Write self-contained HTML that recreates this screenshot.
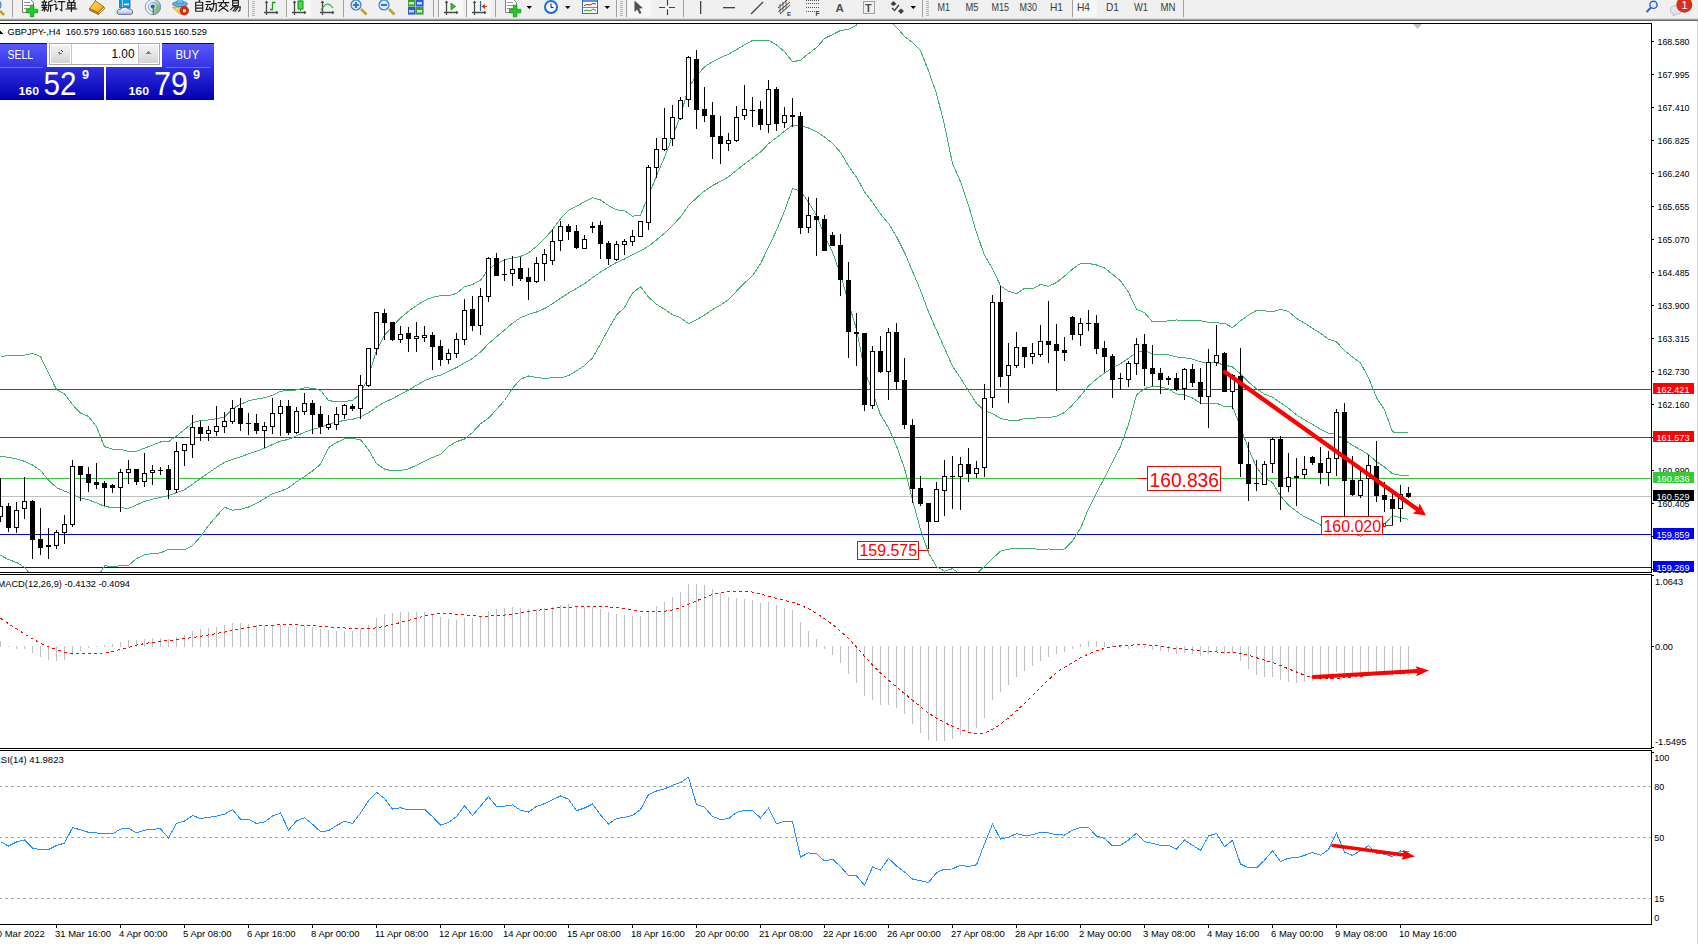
<!DOCTYPE html>
<html><head><meta charset="utf-8"><style>
html,body{margin:0;padding:0;background:#fff;width:1698px;height:944px;overflow:hidden}
svg{display:block}
text{font-family:"Liberation Sans",sans-serif}
</style></head><body>
<svg width="1698" height="944" viewBox="0 0 1698 944" shape-rendering="crispEdges">
<rect x="0" y="0" width="1698" height="19" fill="#f0f0f0"/>
<rect x="0" y="18" width="1698" height="1" fill="#dcdcdc"/>
<rect x="0" y="19" width="1698" height="1" fill="#a0a0a0"/>
<rect x="0" y="20" width="1698" height="1" fill="#6a6a6a"/>
<g shape-rendering="auto">
<rect x="287" y="0" width="24" height="17" fill="#f7f7f7"/>
<rect x="439" y="0" width="24" height="17" fill="#f7f7f7"/>
<rect x="467" y="0" width="24" height="17" fill="#f7f7f7"/>
<rect x="628" y="0" width="23" height="17" fill="#f7f7f7"/>
<rect x="1073" y="0" width="24" height="17" fill="#f7f7f7"/>
<circle cx="-4" cy="5" r="5" fill="#cfe6fb" stroke="#3a7ad6" stroke-width="1.2"/>
<line x1="0" y1="11" x2="4" y2="15" stroke="#c8a020" stroke-width="2.5"/>
<rect x="12.0" y="0" width="1" height="17" fill="#a0a0a0"/>
<path d="M22.5 -0.5 h8 l3 3 v10 h-11 z" fill="#fff" stroke="#808080" stroke-width="1"/>
<rect x="24.0" y="2.0" width="6" height="1" fill="#909090"/>
<rect x="24.0" y="5.0" width="6" height="1" fill="#909090"/>
<rect x="24.0" y="8.0" width="6" height="1" fill="#909090"/>
<path d="M30.3 5.3 h3.5 v4 h4 v3.5 h-4 v4 h-3.5 v-4 h-4 v-3.5 h4 z" fill="#22cc22" stroke="#119911" stroke-width="0.8"/>
<path transform="translate(41.5 0.2) scale(0.950)" d="M3 0.3 V1.3 M0.6 2.1 H5.4 M1.7 3 L2.1 4.8 M4.3 3 L3.9 4.8 M0.3 5.5 H5.8 M0.6 7.6 H5.4 M3 5.5 V11.6 M3 8 L0.6 10.8 M3 8 L5.5 10.3 M11 0.5 L7.6 1.9 M7.6 1.9 V7 Q7.5 10 6.6 11.6 M7.6 5.4 H11.7 M9.6 5.4 V11.7" fill="none" stroke="#1a1a1a" stroke-width="1.21" stroke-linecap="square"/>
<path transform="translate(53.6 0.2) scale(0.950)" d="M1.3 0.8 L2.5 2 M0.4 4.5 H2.5 V10 L4 8.5 M5 1.5 H11.7 M8.6 1.5 V11 L7.2 10.2" fill="none" stroke="#1a1a1a" stroke-width="1.21" stroke-linecap="square"/>
<path transform="translate(65.7 0.2) scale(0.950)" d="M3.2 0 L4.1 1.5 M9 0 L8 1.5 M2.2 2.6 H9.8 V8 H2.2 Z M2.2 5.3 H9.8 M6 2.6 V11.7 M0.4 9.3 H11.6" fill="none" stroke="#1a1a1a" stroke-width="1.21" stroke-linecap="square"/>
<path transform="translate(193.5 0.2) scale(0.950)" d="M6.6 0 L5.6 1.6 M2.3 2.2 H9.7 V11.6 H2.3 Z M2.3 5.3 H9.7 M2.3 8.4 H9.7" fill="none" stroke="#1a1a1a" stroke-width="1.21" stroke-linecap="square"/>
<path transform="translate(205.6 0.2) scale(0.950)" d="M0.8 1.5 H5 M0.2 4.5 H5.6 M2.6 4.5 L0.6 10 L5.5 9 M4.2 7.4 L5.6 10.2 M6.4 3.6 H11.2 V10.6 L10 11.6 M8.6 0.4 V5 Q8.3 9 6 11.6" fill="none" stroke="#1a1a1a" stroke-width="1.21" stroke-linecap="square"/>
<path transform="translate(217.7 0.2) scale(0.950)" d="M6 0 V1.5 M0.4 2.6 H11.6 M4 3.8 L1.8 6.2 M8 3.8 L10.2 6.2 M3.4 6 L10.8 11.6 M8.6 6 L1 11.6" fill="none" stroke="#1a1a1a" stroke-width="1.21" stroke-linecap="square"/>
<path transform="translate(229.8 0.2) scale(0.950)" d="M3 0.5 H9 V5.6 H3 Z M3 3 H9 M3.6 7 H11 L10.6 10.8 L9.4 11.6 M4.6 6 L1 10 M6.8 7.2 L3.6 11.2 M9 7.2 L5.6 11.6" fill="none" stroke="#1a1a1a" stroke-width="1.21" stroke-linecap="square"/>
<defs><linearGradient id="gold" x1="0" y1="0" x2="1" y2="1"><stop offset="0" stop-color="#ffe060"/><stop offset="1" stop-color="#e0a810"/></linearGradient><linearGradient id="cloudg" x1="0" y1="0" x2="0" y2="1"><stop offset="0" stop-color="#ffffff"/><stop offset="1" stop-color="#b8c4dc"/></linearGradient><linearGradient id="sigg" x1="0" y1="0" x2="1" y2="1"><stop offset="0" stop-color="#e8f4e0"/><stop offset="1" stop-color="#3a9a3a"/></linearGradient></defs>
<path d="M89.5 8.5 L98 12.5 L98.5 14.5 L89.8 10.3 Z" fill="#d8a040" stroke="#9a5a10" stroke-width="0.9"/>
<path d="M98 12.5 L103.8 6.8 L104.6 8.8 L98.5 14.5 Z" fill="#efe0b0" stroke="#9a5a10" stroke-width="0.9"/>
<path d="M95.5 1 L103.8 6.8 L98 12.5 L89.5 8.5 Z" fill="url(#gold)" stroke="#a06010" stroke-width="0.9"/>
<path d="M95.5 1 L94.8 -1" stroke="#a06010" stroke-width="1"/>
<path d="M119.5 -0.5 H130 V8 H119.5 Z" fill="#0a9af0" stroke="#1070c0" stroke-width="0.8"/>
<path d="M122.5 -0.5 V8" stroke="#c8ecff" stroke-width="0.8"/>
<rect x="124" y="3.6" width="5" height="1.6" fill="#e8f6ff"/>
<path d="M118.3 14.3 Q116 13 117.5 10.5 Q118.5 9 120.5 9.5 Q121.5 7 125 7.2 Q127.5 7.3 128.3 9 Q131.5 8.3 132.5 11 Q133.5 13.8 131 14.3 Z" fill="url(#cloudg)" stroke="#4a5a90" stroke-width="0.9"/>
<path d="M153 7 V14.7 A7.7 7.7 0 0 0 160.7 7 A7.7 7.7 0 0 0 153 -0.7 Z" fill="url(#sigg)" opacity="0.85"/>
<circle cx="153" cy="7" r="7.7" fill="none" stroke="#5a80d0" stroke-width="1" opacity="0.75"/>
<circle cx="153" cy="7" r="4.6" fill="none" stroke="#6a90d8" stroke-width="1" opacity="0.8"/>
<circle cx="152.6" cy="6.6" r="2" fill="#2a5ad0"/>
<line x1="153.3" y1="7" x2="153.3" y2="14.8" stroke="#20a020" stroke-width="1.3"/>
<path d="M172.5 7.3 L186.5 6.5 L181 15 Z" fill="#f4d850" stroke="#c09020" stroke-width="0.8"/>
<ellipse cx="180" cy="4" rx="7.5" ry="2.6" fill="#62b4e8" stroke="#2a7ab0" stroke-width="0.8"/>
<path d="M176.5 3.5 Q177 -1 180 -1 Q183 -1 183.5 3.5 Z" fill="#70c0f0" stroke="#2a7ab0" stroke-width="0.6"/>
<circle cx="184.3" cy="10.6" r="4.3" fill="#e02a10" stroke="#b01800" stroke-width="0.6"/>
<rect x="183" y="9.3" width="2.8" height="2.8" fill="#fff"/>
<rect x="248.0" y="0" width="1" height="17" fill="#a0a0a0"/>
<rect x="252.0" y="1" width="3" height="1" fill="#b4b4b4"/>
<rect x="252.0" y="3" width="3" height="1" fill="#b4b4b4"/>
<rect x="252.0" y="5" width="3" height="1" fill="#b4b4b4"/>
<rect x="252.0" y="7" width="3" height="1" fill="#b4b4b4"/>
<rect x="252.0" y="9" width="3" height="1" fill="#b4b4b4"/>
<rect x="252.0" y="11" width="3" height="1" fill="#b4b4b4"/>
<rect x="252.0" y="13" width="3" height="1" fill="#b4b4b4"/>
<rect x="252.0" y="15" width="3" height="1" fill="#b4b4b4"/>
<path d="M266.5 15.0 V1.5 M264.0 12.5 H278.0" stroke="#4a4a4a" stroke-width="1.3" fill="none"/>
<path d="M266.5 0.5 l-1.8 2.5 h3.6 z M278.5 12.5 l-2.5 -1.8 v3.6 z" fill="#4a4a4a"/>
<path d="M270 9.5 H272.5 V2.5 H275.5" stroke="#20a020" stroke-width="1.3" fill="none"/>
<rect x="286.0" y="0" width="1" height="17" fill="#a0a0a0"/>
<path d="M294.5 15.0 V1.5 M292.0 12.5 H306.0" stroke="#4a4a4a" stroke-width="1.3" fill="none"/>
<path d="M294.5 0.5 l-1.8 2.5 h3.6 z M306.5 12.5 l-2.5 -1.8 v3.6 z" fill="#4a4a4a"/>
<line x1="300.5" y1="0" x2="300.5" y2="11" stroke="#189018" stroke-width="1"/>
<rect x="298" y="1" width="5" height="8" fill="#40e040" stroke="#189018" stroke-width="1"/>
<path d="M322.5 15.0 V1.5 M320.0 12.5 H334.0" stroke="#4a4a4a" stroke-width="1.3" fill="none"/>
<path d="M322.5 0.5 l-1.8 2.5 h3.6 z M334.5 12.5 l-2.5 -1.8 v3.6 z" fill="#4a4a4a"/>
<path d="M321 10 Q325 4 327.5 4 Q330 4 333 8" stroke="#30a030" stroke-width="1.2" fill="none"/>
<rect x="343.0" y="0" width="1" height="17" fill="#a0a0a0"/>
<line x1="361.0" y1="9" x2="366.5" y2="14.5" stroke="#c8a020" stroke-width="2.6"/>
<circle cx="356.0" cy="5" r="5" fill="#d4ecfc" stroke="#3a7ad6" stroke-width="1.2"/>
<rect x="353.0" y="4" width="6" height="2" fill="#3a7ab0"/>
<rect x="355.0" y="2" width="2" height="6" fill="#3a7ab0"/>
<line x1="389.0" y1="9" x2="394.5" y2="14.5" stroke="#c8a020" stroke-width="2.6"/>
<circle cx="384.0" cy="5" r="5" fill="#d4ecfc" stroke="#3a7ad6" stroke-width="1.2"/>
<rect x="381.0" y="4" width="6" height="2" fill="#3a7ab0"/>
<rect x="408" y="-1" width="7.6" height="7.6" fill="#3aa030"/>
<rect x="409" y="2" width="5" height="2.5" fill="#e8f0ff" fill-opacity="0.85"/>
<rect x="416" y="-1" width="7.6" height="7.6" fill="#2a5ad8"/>
<rect x="417" y="2" width="5" height="2.5" fill="#e8f0ff" fill-opacity="0.85"/>
<rect x="408" y="7" width="7.6" height="7.6" fill="#2a5ad8"/>
<rect x="409" y="10" width="5" height="2.5" fill="#e8f0ff" fill-opacity="0.85"/>
<rect x="416" y="7" width="7.6" height="7.6" fill="#3aa030"/>
<rect x="417" y="10" width="5" height="2.5" fill="#e8f0ff" fill-opacity="0.85"/>
<rect x="433.0" y="0" width="1" height="17" fill="#a0a0a0"/>
<rect x="438.0" y="0" width="1" height="17" fill="#a0a0a0"/>
<path d="M446.5 15.0 V1.5 M444.0 12.5 H458.0" stroke="#4a4a4a" stroke-width="1.3" fill="none"/>
<path d="M446.5 0.5 l-1.8 2.5 h3.6 z M458.5 12.5 l-2.5 -1.8 v3.6 z" fill="#4a4a4a"/>
<path d="M451 3 L455.5 6.5 L451 10 Z" fill="#30c030" stroke="#189018" stroke-width="0.8"/>
<rect x="466.0" y="0" width="1" height="17" fill="#a0a0a0"/>
<path d="M474.5 15.0 V1.5 M472.0 12.5 H486.0" stroke="#4a4a4a" stroke-width="1.3" fill="none"/>
<path d="M474.5 0.5 l-1.8 2.5 h3.6 z M486.5 12.5 l-2.5 -1.8 v3.6 z" fill="#4a4a4a"/>
<line x1="480.5" y1="1" x2="480.5" y2="11" stroke="#2a6ab0" stroke-width="1.2"/>
<path d="M481.5 6.5 L485 4 V9 Z M483 6 H487 V7 H483 Z" fill="#d03010"/>
<rect x="495.0" y="0" width="1" height="17" fill="#a0a0a0"/>
<path d="M505.5 -0.5 h8 l3 3 v10 h-11 z" fill="#fff" stroke="#808080" stroke-width="1"/>
<rect x="507.0" y="2.0" width="6" height="1" fill="#909090"/>
<rect x="507.0" y="5.0" width="6" height="1" fill="#909090"/>
<rect x="507.0" y="8.0" width="6" height="1" fill="#909090"/>
<path d="M513.3 5.3 h3.5 v4 h4 v3.5 h-4 v4 h-3.5 v-4 h-4 v-3.5 h4 z" fill="#22cc22" stroke="#119911" stroke-width="0.8"/>
<path d="M526.5 6 h5.5 l-2.75 3 z" fill="#000"/>
<circle cx="551" cy="7" r="7" fill="#1a6ed8"/>
<circle cx="551" cy="7" r="5" fill="#f8f8ff"/>
<path d="M551 3.5 V7.5 H553.5" stroke="#222" stroke-width="1" fill="none"/>
<path d="M565.0 6 h5.5 l-2.75 3 z" fill="#000"/>
<rect x="582.5" y="-0.5" width="15" height="14" fill="#fff" stroke="#3a6ab0" stroke-width="1"/>
<rect x="583" y="0" width="14" height="2" fill="#5a90d8"/>
<path d="M584 5.5 L587 4.5 L590 5 L593 3.5 L596 4" stroke="#b02010" stroke-width="1" fill="none"/>
<rect x="583" y="7" width="14" height="1" fill="#5a90d8"/>
<path d="M584 11 L587 10 L590 11 L593 9 L596 10.5" stroke="#20a020" stroke-width="1" fill="none"/>
<path d="M604.5 6 h5.5 l-2.75 3 z" fill="#000"/>
<rect x="616.0" y="0" width="1" height="17" fill="#a0a0a0"/>
<rect x="620.0" y="1" width="3" height="1" fill="#b4b4b4"/>
<rect x="620.0" y="3" width="3" height="1" fill="#b4b4b4"/>
<rect x="620.0" y="5" width="3" height="1" fill="#b4b4b4"/>
<rect x="620.0" y="7" width="3" height="1" fill="#b4b4b4"/>
<rect x="620.0" y="9" width="3" height="1" fill="#b4b4b4"/>
<rect x="620.0" y="11" width="3" height="1" fill="#b4b4b4"/>
<rect x="620.0" y="13" width="3" height="1" fill="#b4b4b4"/>
<rect x="620.0" y="15" width="3" height="1" fill="#b4b4b4"/>
<rect x="626.0" y="0" width="1" height="17" fill="#a0a0a0"/>
<path d="M634.5 0.5 V12 L637.2 9.5 L639.5 14 L641.5 13 L639.2 8.6 L643 8.3 Z" fill="#505050"/>
<path d="M659 7.5 H665 M669 7.5 H675 M667.5 0 V5.5 M667.5 9.5 V15" stroke="#404040" stroke-width="1.2" fill="none"/>
<rect x="683.0" y="0" width="1" height="17" fill="#a0a0a0"/>
<rect x="700" y="1" width="1.3" height="13" fill="#404040"/>
<rect x="723" y="7" width="12" height="1.3" fill="#404040"/>
<line x1="751" y1="14" x2="763" y2="2" stroke="#404040" stroke-width="1.2"/>
<path d="M778 8 L787 0 M778.5 11.5 L790 2 M780 14 L790 5" stroke="#404040" stroke-width="1" fill="none"/>
<path d="M780 4 V13 M783 2 V11 M786 0 V9" stroke="#404040" stroke-width="0.8" fill="none"/>
<text x="787" y="16" font-size="6" font-weight="bold" fill="#404040">E</text>
<line x1="806" y1="0.5" x2="819" y2="0.5" stroke="#505050" stroke-width="1" stroke-dasharray="1,1"/>
<line x1="806" y1="3.5" x2="819" y2="3.5" stroke="#505050" stroke-width="1" stroke-dasharray="1,1"/>
<line x1="806" y1="7.5" x2="819" y2="7.5" stroke="#505050" stroke-width="1" stroke-dasharray="1,1"/>
<line x1="806" y1="11.5" x2="819" y2="11.5" stroke="#505050" stroke-width="1" stroke-dasharray="1,1"/>
<text x="815.5" y="16" font-size="6.5" font-weight="bold" fill="#404040">F</text>
<text x="835.5" y="12" font-size="11.5" font-weight="bold" fill="#505050">A</text>
<rect x="863.5" y="1.5" width="11" height="12" fill="none" stroke="#505050" stroke-width="1" stroke-dasharray="1,1"/>
<text x="865" y="12" font-size="11" font-weight="bold" fill="#505050">T</text>
<path d="M890.5 4 L893.5 1 L896.5 4 L893.5 6 Z M898 11 L901 8.5 L904 11 L901 14 Z" fill="#404040"/>
<path d="M892 8 L894.5 10.5 L899 5" stroke="#404040" stroke-width="1.3" fill="none"/>
<path d="M910.5 6 h5.5 l-2.75 3 z" fill="#000"/>
<rect x="922.0" y="0" width="1" height="17" fill="#a0a0a0"/>
<rect x="926.0" y="1" width="3" height="1" fill="#b4b4b4"/>
<rect x="926.0" y="3" width="3" height="1" fill="#b4b4b4"/>
<rect x="926.0" y="5" width="3" height="1" fill="#b4b4b4"/>
<rect x="926.0" y="7" width="3" height="1" fill="#b4b4b4"/>
<rect x="926.0" y="9" width="3" height="1" fill="#b4b4b4"/>
<rect x="926.0" y="11" width="3" height="1" fill="#b4b4b4"/>
<rect x="926.0" y="13" width="3" height="1" fill="#b4b4b4"/>
<rect x="926.0" y="15" width="3" height="1" fill="#b4b4b4"/>
<text x="937.5" y="10.9" font-size="10.5" fill="#3c3c3c" textLength="12.5" lengthAdjust="spacingAndGlyphs">M1</text>
<text x="965.5" y="10.9" font-size="10.5" fill="#3c3c3c" textLength="13.0" lengthAdjust="spacingAndGlyphs">M5</text>
<text x="991.5" y="10.9" font-size="10.5" fill="#3c3c3c" textLength="17.5" lengthAdjust="spacingAndGlyphs">M15</text>
<text x="1019.5" y="10.9" font-size="10.5" fill="#3c3c3c" textLength="17.5" lengthAdjust="spacingAndGlyphs">M30</text>
<text x="1050.0" y="10.9" font-size="10.5" fill="#3c3c3c" textLength="13.0" lengthAdjust="spacingAndGlyphs">H1</text>
<text x="1077.0" y="10.9" font-size="10.5" fill="#3c3c3c" textLength="13.0" lengthAdjust="spacingAndGlyphs">H4</text>
<text x="1106.0" y="10.9" font-size="10.5" fill="#3c3c3c" textLength="13.0" lengthAdjust="spacingAndGlyphs">D1</text>
<text x="1134.0" y="10.9" font-size="10.5" fill="#3c3c3c" textLength="14.0" lengthAdjust="spacingAndGlyphs">W1</text>
<text x="1160.5" y="10.9" font-size="10.5" fill="#3c3c3c" textLength="15.0" lengthAdjust="spacingAndGlyphs">MN</text>
<rect x="1072.0" y="0" width="1" height="17" fill="#a0a0a0"/>
<rect x="1183.0" y="0" width="1" height="17" fill="#a0a0a0"/>
<circle cx="1653.5" cy="4.8" r="3.6" fill="none" stroke="#2a62d0" stroke-width="1.4"/>
<line x1="1651" y1="7.5" x2="1646.5" y2="12" stroke="#2a62d0" stroke-width="2"/>
<path d="M1670.5 11 Q1670 5.5 1676 5.5 Q1682 5.5 1682 10.5 Q1682 14 1676 14 L1673 16 L1673.5 13.5 Q1670.5 13 1670.5 11 Z" fill="#e4e4ea" stroke="#b0b0b8" stroke-width="0.8"/>
<circle cx="1684.3" cy="4.7" r="8" fill="#d8301c"/>
<text x="1681.5" y="8.8" font-size="11" fill="#fff" font-family="Liberation Serif,serif">1</text>
</g>
<path d="M0 23.5 H1651.5 V572.5 H0" fill="none" stroke="#000" stroke-width="1"/>
<path d="M0 574.5 H1651.5 V748.5 H0" fill="none" stroke="#000" stroke-width="1"/>
<path d="M0 750.5 H1651.5 V924.5 H0" fill="none" stroke="#000" stroke-width="1"/>
<rect x="1697" y="21" width="1" height="923" fill="#d4d4d4"/>
<defs><clipPath id="cm"><rect x="0" y="24" width="1651" height="548"/></clipPath><clipPath id="cd"><rect x="0" y="575" width="1651" height="173"/></clipPath><clipPath id="cr"><rect x="0" y="751" width="1651" height="173"/></clipPath></defs>
<rect x="0" y="389" width="1651" height="1" fill="#ff0000"/>
<rect x="0" y="437" width="1651" height="1" fill="#ff0000"/>
<rect x="0" y="478" width="1651" height="1" fill="#32cd32"/>
<rect x="0" y="496" width="1651" height="1" fill="#c0c0c0"/>
<rect x="0" y="534" width="1651" height="1" fill="#0000ff"/>
<rect x="0" y="567" width="1651" height="1" fill="#0000ff"/>
<g clip-path="url(#cm)">
<polyline points="0.5,357.2 8.5,355.2 16.5,355.2 24.5,355.2 32.5,353.4 40.5,356.5 48.5,373.0 56.5,389.6 64.5,393.7 72.5,404.7 80.5,413.0 88.5,416.4 96.5,426.8 104.5,446.7 112.5,449.1 120.5,449.5 128.5,451.3 136.5,451.3 144.5,448.1 152.5,445.1 160.5,442.0 168.5,441.7 176.5,436.0 184.5,429.7 192.5,422.8 200.5,420.5 208.5,420.0 216.5,418.7 224.5,417.2 232.5,408.7 240.5,404.3 248.5,400.8 256.5,399.1 264.5,397.8 272.5,395.3 280.5,391.1 288.5,390.8 296.5,389.9 304.5,387.9 312.5,388.1 320.5,390.4 328.5,400.4 336.5,402.0 344.5,401.6 352.5,400.3 360.5,394.0 368.5,376.1 376.5,350.7 384.5,335.2 392.5,326.5 400.5,317.9 408.5,311.2 416.5,305.5 424.5,300.5 432.5,297.3 440.5,295.7 448.5,295.8 456.5,293.4 464.5,286.8 472.5,284.5 480.5,280.3 488.5,269.1 496.5,264.0 504.5,259.8 512.5,257.9 520.5,256.5 528.5,252.8 536.5,246.5 544.5,238.8 552.5,229.7 560.5,218.7 568.5,210.4 576.5,206.3 584.5,201.8 592.5,197.7 600.5,199.9 608.5,205.6 616.5,209.9 624.5,210.7 632.5,216.2 640.5,215.1 648.5,195.6 656.5,175.8 664.5,157.3 672.5,136.6 680.5,115.9 688.5,87.6 696.5,75.9 704.5,66.8 712.5,61.7 720.5,57.7 728.5,54.2 736.5,49.6 744.5,44.8 752.5,40.5 760.5,40.5 768.5,40.2 776.5,44.9 784.5,51.6 792.5,61.8 800.5,60.2 808.5,53.7 816.5,47.6 824.5,38.5 832.5,34.6 840.5,30.5 848.5,29.2 856.5,25.1 864.5,13.2 872.5,13.1 880.5,13.0 888.5,19.1 896.5,27.3 904.5,36.4 912.5,42.6 920.5,50.8 928.5,70.8 936.5,93.6 944.5,125.1 952.5,163.7 960.5,181.6 968.5,205.3 976.5,232.7 984.5,255.2 992.5,268.6 1000.5,285.8 1008.5,291.2 1016.5,293.7 1024.5,288.4 1032.5,288.7 1040.5,284.5 1048.5,286.4 1056.5,282.5 1064.5,276.1 1072.5,269.0 1080.5,263.5 1088.5,263.4 1096.5,265.0 1104.5,267.9 1112.5,274.3 1120.5,280.8 1128.5,292.3 1136.5,309.3 1144.5,312.6 1152.5,321.9 1160.5,321.6 1168.5,320.9 1176.5,320.0 1184.5,320.2 1192.5,320.2 1200.5,320.6 1208.5,322.3 1216.5,322.9 1224.5,323.3 1232.5,327.7 1240.5,320.8 1248.5,315.1 1256.5,310.4 1264.5,310.8 1272.5,311.8 1280.5,309.3 1288.5,311.5 1296.5,318.4 1304.5,323.1 1312.5,328.3 1320.5,333.2 1328.5,339.2 1336.5,342.0 1344.5,350.5 1352.5,357.1 1360.5,363.0 1368.5,377.7 1376.5,397.6 1384.5,409.8 1392.5,431.9 1400.5,432.8 1408.5,432.6" fill="none" stroke="#3cb371" stroke-width="1" />
<polyline points="0.5,456.3 8.5,457.4 16.5,458.8 24.5,461.3 32.5,465.0 40.5,470.5 48.5,480.1 56.5,487.7 64.5,491.1 72.5,494.3 80.5,498.0 88.5,499.8 96.5,502.9 104.5,506.3 112.5,507.7 120.5,507.7 128.5,508.4 136.5,504.9 144.5,501.5 152.5,499.2 160.5,497.4 168.5,495.6 176.5,492.6 184.5,489.8 192.5,484.2 200.5,478.5 208.5,472.8 216.5,467.5 224.5,462.3 232.5,459.4 240.5,456.9 248.5,453.9 256.5,451.2 264.5,448.2 272.5,444.5 280.5,441.2 288.5,439.3 296.5,435.8 304.5,432.3 312.5,429.5 320.5,427.3 328.5,424.1 336.5,422.2 344.5,420.3 352.5,419.3 360.5,416.9 368.5,412.8 376.5,407.1 384.5,402.2 392.5,398.7 400.5,394.3 408.5,390.0 416.5,385.3 424.5,380.8 432.5,377.4 440.5,375.1 448.5,371.1 456.5,367.6 464.5,362.9 472.5,358.5 480.5,352.0 488.5,343.7 496.5,336.7 504.5,330.1 512.5,323.2 520.5,317.8 528.5,314.4 536.5,312.0 544.5,308.6 552.5,303.7 560.5,298.3 568.5,293.0 576.5,288.5 584.5,283.7 592.5,277.8 600.5,272.0 608.5,267.2 616.5,262.5 624.5,259.0 632.5,254.6 640.5,250.9 648.5,246.3 656.5,240.0 664.5,233.3 672.5,225.7 680.5,216.8 688.5,205.6 696.5,197.9 704.5,190.9 712.5,185.6 720.5,181.4 728.5,176.9 736.5,170.4 744.5,163.9 752.5,158.1 760.5,152.1 768.5,143.7 776.5,137.6 784.5,131.3 792.5,125.3 800.5,125.6 808.5,128.0 816.5,131.5 824.5,137.0 832.5,143.4 840.5,152.3 848.5,166.1 856.5,177.3 864.5,191.7 872.5,202.4 880.5,213.9 888.5,223.5 896.5,236.6 904.5,252.4 912.5,271.3 920.5,290.2 928.5,311.8 936.5,330.1 944.5,348.1 952.5,366.2 960.5,378.0 968.5,390.9 976.5,403.3 984.5,410.8 992.5,413.6 1000.5,418.5 1008.5,420.2 1016.5,420.9 1024.5,418.5 1032.5,418.6 1040.5,417.1 1048.5,417.7 1056.5,416.2 1064.5,412.6 1072.5,404.9 1080.5,395.9 1088.5,386.0 1096.5,379.0 1104.5,372.9 1112.5,368.1 1120.5,363.7 1128.5,358.3 1136.5,352.1 1144.5,350.6 1152.5,354.1 1160.5,354.3 1168.5,354.9 1176.5,357.0 1184.5,357.7 1192.5,359.1 1200.5,361.8 1208.5,362.8 1216.5,363.0 1224.5,365.0 1232.5,367.0 1240.5,374.0 1248.5,382.0 1256.5,388.8 1264.5,394.2 1272.5,397.2 1280.5,402.6 1288.5,408.3 1296.5,414.9 1304.5,419.9 1312.5,424.4 1320.5,429.1 1328.5,433.1 1336.5,434.2 1344.5,439.8 1352.5,445.4 1360.5,449.6 1368.5,454.7 1376.5,461.7 1384.5,467.1 1392.5,473.8 1400.5,475.3 1408.5,475.9" fill="none" stroke="#3cb371" stroke-width="1" />
<polyline points="0.5,555.4 8.5,559.6 16.5,562.4 24.5,567.4 32.5,576.6 40.5,584.5 48.5,587.2 56.5,585.8 64.5,588.5 72.5,583.9 80.5,583.0 88.5,583.2 96.5,579.0 104.5,565.9 112.5,566.3 120.5,565.9 128.5,565.5 136.5,558.5 144.5,554.9 152.5,553.4 160.5,552.9 168.5,549.4 176.5,549.2 184.5,549.9 192.5,545.6 200.5,536.6 208.5,525.5 216.5,516.2 224.5,507.3 232.5,510.1 240.5,509.4 248.5,507.0 256.5,503.3 264.5,498.6 272.5,493.7 280.5,491.3 288.5,487.8 296.5,481.8 304.5,476.8 312.5,470.9 320.5,464.3 328.5,447.7 336.5,442.5 344.5,438.9 352.5,438.3 360.5,439.8 368.5,449.6 376.5,463.5 384.5,469.1 392.5,470.9 400.5,470.6 408.5,468.9 416.5,465.2 424.5,461.1 432.5,457.5 440.5,454.4 448.5,446.5 456.5,441.7 464.5,439.0 472.5,432.4 480.5,423.7 488.5,418.2 496.5,409.4 504.5,400.5 512.5,388.4 520.5,379.2 528.5,376.0 536.5,377.4 544.5,378.4 552.5,377.7 560.5,378.0 568.5,375.6 576.5,370.8 584.5,365.6 592.5,357.9 600.5,344.0 608.5,328.9 616.5,315.1 624.5,307.4 632.5,293.1 640.5,286.7 648.5,297.1 656.5,304.3 664.5,309.2 672.5,314.7 680.5,317.7 688.5,323.6 696.5,319.8 704.5,315.0 712.5,309.5 720.5,305.2 728.5,299.6 736.5,291.2 744.5,283.1 752.5,275.7 760.5,263.7 768.5,247.1 776.5,230.3 784.5,211.1 792.5,188.7 800.5,190.9 808.5,202.2 816.5,215.4 824.5,235.6 832.5,252.2 840.5,274.2 848.5,302.9 856.5,329.4 864.5,370.2 872.5,391.8 880.5,414.8 888.5,427.8 896.5,446.0 904.5,468.4 912.5,500.0 920.5,529.6 928.5,552.8 936.5,566.6 944.5,571.2 952.5,568.7 960.5,574.4 968.5,576.4 976.5,573.9 984.5,566.3 992.5,558.6 1000.5,551.2 1008.5,549.2 1016.5,548.1 1024.5,548.6 1032.5,548.5 1040.5,549.8 1048.5,549.0 1056.5,549.8 1064.5,549.0 1072.5,540.8 1080.5,528.3 1088.5,508.7 1096.5,492.9 1104.5,477.9 1112.5,461.8 1120.5,446.6 1128.5,424.3 1136.5,394.9 1144.5,388.6 1152.5,386.3 1160.5,386.9 1168.5,389.0 1176.5,394.0 1184.5,395.1 1192.5,398.0 1200.5,403.1 1208.5,403.2 1216.5,403.2 1224.5,406.6 1232.5,406.4 1240.5,427.3 1248.5,448.9 1256.5,467.1 1264.5,477.7 1272.5,482.6 1280.5,495.9 1288.5,505.1 1296.5,511.4 1304.5,516.8 1312.5,520.5 1320.5,525.0 1328.5,526.9 1336.5,526.5 1344.5,529.1 1352.5,533.6 1360.5,536.1 1368.5,531.7 1376.5,525.8 1384.5,524.3 1392.5,515.6 1400.5,517.7 1408.5,519.3" fill="none" stroke="#3cb371" stroke-width="1" />
</g>
<rect x="0" y="478" width="1" height="44" fill="#000"/>
<rect x="-1.5" y="506.5" width="4" height="10" fill="#fff" stroke="#000" stroke-width="1"/>
<rect x="8" y="503" width="1" height="29" fill="#000"/>
<rect x="6" y="506" width="5" height="22" fill="#000"/>
<rect x="16" y="502" width="1" height="31" fill="#000"/>
<rect x="14.5" y="510.5" width="4" height="17" fill="#fff" stroke="#000" stroke-width="1"/>
<rect x="24" y="477" width="1" height="42" fill="#000"/>
<rect x="22.5" y="501.5" width="4" height="7" fill="#fff" stroke="#000" stroke-width="1"/>
<rect x="32" y="500" width="1" height="59" fill="#000"/>
<rect x="30" y="501" width="5" height="39" fill="#000"/>
<rect x="40" y="508" width="1" height="47" fill="#000"/>
<rect x="38" y="539" width="5" height="9" fill="#000"/>
<rect x="48" y="528" width="1" height="31" fill="#000"/>
<rect x="46" y="545" width="5" height="2" fill="#000"/>
<rect x="56" y="530" width="1" height="19" fill="#000"/>
<rect x="54.5" y="532.5" width="4" height="13" fill="#fff" stroke="#000" stroke-width="1"/>
<rect x="64" y="515" width="1" height="29" fill="#000"/>
<rect x="62.5" y="524.5" width="4" height="8" fill="#fff" stroke="#000" stroke-width="1"/>
<rect x="72" y="460" width="1" height="67" fill="#000"/>
<rect x="70.5" y="466.5" width="4" height="58" fill="#fff" stroke="#000" stroke-width="1"/>
<rect x="80" y="466" width="1" height="35" fill="#000"/>
<rect x="78" y="466" width="5" height="9" fill="#000"/>
<rect x="88" y="467" width="1" height="25" fill="#000"/>
<rect x="86" y="474" width="5" height="9" fill="#000"/>
<rect x="96" y="463" width="1" height="26" fill="#000"/>
<rect x="94" y="482" width="5" height="3" fill="#000"/>
<rect x="104" y="481" width="1" height="25" fill="#000"/>
<rect x="102" y="483" width="5" height="5" fill="#000"/>
<rect x="112" y="484" width="1" height="9" fill="#000"/>
<rect x="110" y="485" width="5" height="3" fill="#000"/>
<rect x="120" y="469" width="1" height="43" fill="#000"/>
<rect x="118.5" y="472.5" width="4" height="15" fill="#fff" stroke="#000" stroke-width="1"/>
<rect x="128" y="460" width="1" height="24" fill="#000"/>
<rect x="126.5" y="469.5" width="4" height="3" fill="#fff" stroke="#000" stroke-width="1"/>
<rect x="136" y="469" width="1" height="16" fill="#000"/>
<rect x="134" y="469" width="5" height="13" fill="#000"/>
<rect x="144" y="453" width="1" height="34" fill="#000"/>
<rect x="142.5" y="473.5" width="4" height="8" fill="#fff" stroke="#000" stroke-width="1"/>
<rect x="152" y="465" width="1" height="20" fill="#000"/>
<rect x="150.5" y="470.5" width="4" height="2" fill="#fff" stroke="#000" stroke-width="1"/>
<rect x="160" y="467" width="1" height="8" fill="#000"/>
<rect x="158" y="470" width="5" height="1" fill="#000"/>
<rect x="168" y="465" width="1" height="34" fill="#000"/>
<rect x="166" y="469" width="5" height="21" fill="#000"/>
<rect x="176" y="442" width="1" height="51" fill="#000"/>
<rect x="174.5" y="451.5" width="4" height="38" fill="#fff" stroke="#000" stroke-width="1"/>
<rect x="184" y="444" width="1" height="22" fill="#000"/>
<rect x="182.5" y="444.5" width="4" height="6" fill="#fff" stroke="#000" stroke-width="1"/>
<rect x="192" y="415" width="1" height="43" fill="#000"/>
<rect x="190.5" y="427.5" width="4" height="17" fill="#fff" stroke="#000" stroke-width="1"/>
<rect x="200" y="421" width="1" height="20" fill="#000"/>
<rect x="198" y="427" width="5" height="7" fill="#000"/>
<rect x="208" y="426" width="1" height="15" fill="#000"/>
<rect x="206.5" y="430.5" width="4" height="3" fill="#fff" stroke="#000" stroke-width="1"/>
<rect x="216" y="406" width="1" height="30" fill="#000"/>
<rect x="214.5" y="426.5" width="4" height="5" fill="#fff" stroke="#000" stroke-width="1"/>
<rect x="224" y="412" width="1" height="21" fill="#000"/>
<rect x="222.5" y="421.5" width="4" height="5" fill="#fff" stroke="#000" stroke-width="1"/>
<rect x="232" y="400" width="1" height="24" fill="#000"/>
<rect x="230.5" y="408.5" width="4" height="13" fill="#fff" stroke="#000" stroke-width="1"/>
<rect x="240" y="398" width="1" height="33" fill="#000"/>
<rect x="238" y="408" width="5" height="16" fill="#000"/>
<rect x="248" y="413" width="1" height="22" fill="#000"/>
<rect x="246" y="423" width="5" height="1" fill="#000"/>
<rect x="256" y="414" width="1" height="20" fill="#000"/>
<rect x="254" y="423" width="5" height="8" fill="#000"/>
<rect x="264" y="422" width="1" height="26" fill="#000"/>
<rect x="262.5" y="426.5" width="4" height="4" fill="#fff" stroke="#000" stroke-width="1"/>
<rect x="272" y="398" width="1" height="36" fill="#000"/>
<rect x="270.5" y="413.5" width="4" height="13" fill="#fff" stroke="#000" stroke-width="1"/>
<rect x="280" y="400" width="1" height="36" fill="#000"/>
<rect x="278.5" y="406.5" width="4" height="7" fill="#fff" stroke="#000" stroke-width="1"/>
<rect x="288" y="400" width="1" height="35" fill="#000"/>
<rect x="286" y="406" width="5" height="27" fill="#000"/>
<rect x="296" y="407" width="1" height="27" fill="#000"/>
<rect x="294.5" y="411.5" width="4" height="21" fill="#fff" stroke="#000" stroke-width="1"/>
<rect x="304" y="393" width="1" height="22" fill="#000"/>
<rect x="302.5" y="403.5" width="4" height="8" fill="#fff" stroke="#000" stroke-width="1"/>
<rect x="312" y="400" width="1" height="34" fill="#000"/>
<rect x="310" y="403" width="5" height="12" fill="#000"/>
<rect x="320" y="406" width="1" height="28" fill="#000"/>
<rect x="318" y="414" width="5" height="13" fill="#000"/>
<rect x="328" y="415" width="1" height="15" fill="#000"/>
<rect x="326.5" y="424.5" width="4" height="3" fill="#fff" stroke="#000" stroke-width="1"/>
<rect x="336" y="407" width="1" height="23" fill="#000"/>
<rect x="334.5" y="414.5" width="4" height="10" fill="#fff" stroke="#000" stroke-width="1"/>
<rect x="344" y="404" width="1" height="15" fill="#000"/>
<rect x="342.5" y="405.5" width="4" height="9" fill="#fff" stroke="#000" stroke-width="1"/>
<rect x="352" y="404" width="1" height="7" fill="#000"/>
<rect x="350" y="406" width="5" height="3" fill="#000"/>
<rect x="360" y="375" width="1" height="44" fill="#000"/>
<rect x="358.5" y="385.5" width="4" height="23" fill="#fff" stroke="#000" stroke-width="1"/>
<rect x="368" y="348" width="1" height="39" fill="#000"/>
<rect x="366.5" y="348.5" width="4" height="37" fill="#fff" stroke="#000" stroke-width="1"/>
<rect x="376" y="312" width="1" height="43" fill="#000"/>
<rect x="374.5" y="312.5" width="4" height="36" fill="#fff" stroke="#000" stroke-width="1"/>
<rect x="384" y="309" width="1" height="31" fill="#000"/>
<rect x="382" y="313" width="5" height="10" fill="#000"/>
<rect x="392" y="322" width="1" height="19" fill="#000"/>
<rect x="390" y="322" width="5" height="18" fill="#000"/>
<rect x="400" y="326" width="1" height="17" fill="#000"/>
<rect x="398.5" y="334.5" width="4" height="5" fill="#fff" stroke="#000" stroke-width="1"/>
<rect x="408" y="327" width="1" height="25" fill="#000"/>
<rect x="406" y="333" width="5" height="6" fill="#000"/>
<rect x="416" y="322" width="1" height="30" fill="#000"/>
<rect x="414.5" y="336.5" width="4" height="2" fill="#fff" stroke="#000" stroke-width="1"/>
<rect x="424" y="326" width="1" height="16" fill="#000"/>
<rect x="422.5" y="335.5" width="4" height="2" fill="#fff" stroke="#000" stroke-width="1"/>
<rect x="432" y="332" width="1" height="38" fill="#000"/>
<rect x="430" y="335" width="5" height="12" fill="#000"/>
<rect x="440" y="340" width="1" height="26" fill="#000"/>
<rect x="438" y="346" width="5" height="14" fill="#000"/>
<rect x="448" y="349" width="1" height="15" fill="#000"/>
<rect x="446.5" y="353.5" width="4" height="6" fill="#fff" stroke="#000" stroke-width="1"/>
<rect x="456" y="333" width="1" height="25" fill="#000"/>
<rect x="454.5" y="339.5" width="4" height="14" fill="#fff" stroke="#000" stroke-width="1"/>
<rect x="464" y="299" width="1" height="46" fill="#000"/>
<rect x="462.5" y="310.5" width="4" height="29" fill="#fff" stroke="#000" stroke-width="1"/>
<rect x="472" y="296" width="1" height="35" fill="#000"/>
<rect x="470" y="309" width="5" height="17" fill="#000"/>
<rect x="480" y="288" width="1" height="47" fill="#000"/>
<rect x="478.5" y="296.5" width="4" height="29" fill="#fff" stroke="#000" stroke-width="1"/>
<rect x="488" y="257" width="1" height="45" fill="#000"/>
<rect x="486.5" y="258.5" width="4" height="38" fill="#fff" stroke="#000" stroke-width="1"/>
<rect x="496" y="253" width="1" height="23" fill="#000"/>
<rect x="494" y="258" width="5" height="18" fill="#000"/>
<rect x="504" y="259" width="1" height="22" fill="#000"/>
<rect x="502" y="274" width="5" height="1" fill="#000"/>
<rect x="512" y="256" width="1" height="30" fill="#000"/>
<rect x="510.5" y="269.5" width="4" height="4" fill="#fff" stroke="#000" stroke-width="1"/>
<rect x="520" y="257" width="1" height="24" fill="#000"/>
<rect x="518" y="268" width="5" height="11" fill="#000"/>
<rect x="528" y="268" width="1" height="32" fill="#000"/>
<rect x="526" y="277" width="5" height="5" fill="#000"/>
<rect x="536" y="257" width="1" height="26" fill="#000"/>
<rect x="534.5" y="263.5" width="4" height="18" fill="#fff" stroke="#000" stroke-width="1"/>
<rect x="544" y="249" width="1" height="32" fill="#000"/>
<rect x="542.5" y="254.5" width="4" height="9" fill="#fff" stroke="#000" stroke-width="1"/>
<rect x="552" y="229" width="1" height="36" fill="#000"/>
<rect x="550.5" y="241.5" width="4" height="19" fill="#fff" stroke="#000" stroke-width="1"/>
<rect x="560" y="221" width="1" height="30" fill="#000"/>
<rect x="558.5" y="226.5" width="4" height="14" fill="#fff" stroke="#000" stroke-width="1"/>
<rect x="568" y="224" width="1" height="16" fill="#000"/>
<rect x="566" y="226" width="5" height="6" fill="#000"/>
<rect x="576" y="225" width="1" height="24" fill="#000"/>
<rect x="574" y="231" width="5" height="17" fill="#000"/>
<rect x="584" y="235" width="1" height="14" fill="#000"/>
<rect x="582.5" y="239.5" width="4" height="9" fill="#fff" stroke="#000" stroke-width="1"/>
<rect x="592" y="222" width="1" height="11" fill="#000"/>
<rect x="590" y="226" width="5" height="2" fill="#000"/>
<rect x="600" y="221" width="1" height="38" fill="#000"/>
<rect x="598" y="225" width="5" height="19" fill="#000"/>
<rect x="608" y="241" width="1" height="24" fill="#000"/>
<rect x="606" y="243" width="5" height="16" fill="#000"/>
<rect x="616" y="241" width="1" height="20" fill="#000"/>
<rect x="614.5" y="244.5" width="4" height="15" fill="#fff" stroke="#000" stroke-width="1"/>
<rect x="624" y="239" width="1" height="16" fill="#000"/>
<rect x="622.5" y="241.5" width="4" height="3" fill="#fff" stroke="#000" stroke-width="1"/>
<rect x="632" y="230" width="1" height="16" fill="#000"/>
<rect x="630.5" y="236.5" width="4" height="5" fill="#fff" stroke="#000" stroke-width="1"/>
<rect x="640" y="221" width="1" height="16" fill="#000"/>
<rect x="638.5" y="221.5" width="4" height="15" fill="#fff" stroke="#000" stroke-width="1"/>
<rect x="648" y="165" width="1" height="65" fill="#000"/>
<rect x="646.5" y="167.5" width="4" height="55" fill="#fff" stroke="#000" stroke-width="1"/>
<rect x="656" y="138" width="1" height="40" fill="#000"/>
<rect x="654.5" y="149.5" width="4" height="18" fill="#fff" stroke="#000" stroke-width="1"/>
<rect x="664" y="108" width="1" height="43" fill="#000"/>
<rect x="662.5" y="138.5" width="4" height="11" fill="#fff" stroke="#000" stroke-width="1"/>
<rect x="672" y="105" width="1" height="41" fill="#000"/>
<rect x="670.5" y="117.5" width="4" height="21" fill="#fff" stroke="#000" stroke-width="1"/>
<rect x="680" y="97" width="1" height="23" fill="#000"/>
<rect x="678.5" y="100.5" width="4" height="18" fill="#fff" stroke="#000" stroke-width="1"/>
<rect x="688" y="56" width="1" height="51" fill="#000"/>
<rect x="686.5" y="57.5" width="4" height="42" fill="#fff" stroke="#000" stroke-width="1"/>
<rect x="696" y="50" width="1" height="79" fill="#000"/>
<rect x="694" y="59" width="5" height="51" fill="#000"/>
<rect x="704" y="87" width="1" height="35" fill="#000"/>
<rect x="702" y="109" width="5" height="7" fill="#000"/>
<rect x="712" y="102" width="1" height="57" fill="#000"/>
<rect x="710" y="115" width="5" height="22" fill="#000"/>
<rect x="720" y="116" width="1" height="48" fill="#000"/>
<rect x="718" y="136" width="5" height="8" fill="#000"/>
<rect x="728" y="133" width="1" height="18" fill="#000"/>
<rect x="726.5" y="140.5" width="4" height="3" fill="#fff" stroke="#000" stroke-width="1"/>
<rect x="736" y="106" width="1" height="36" fill="#000"/>
<rect x="734.5" y="117.5" width="4" height="23" fill="#fff" stroke="#000" stroke-width="1"/>
<rect x="744" y="85" width="1" height="35" fill="#000"/>
<rect x="742.5" y="109.5" width="4" height="6" fill="#fff" stroke="#000" stroke-width="1"/>
<rect x="752" y="97" width="1" height="30" fill="#000"/>
<rect x="750" y="110" width="5" height="1" fill="#000"/>
<rect x="760" y="101" width="1" height="29" fill="#000"/>
<rect x="758" y="109" width="5" height="16" fill="#000"/>
<rect x="768" y="80" width="1" height="53" fill="#000"/>
<rect x="766.5" y="89.5" width="4" height="35" fill="#fff" stroke="#000" stroke-width="1"/>
<rect x="776" y="87" width="1" height="44" fill="#000"/>
<rect x="774" y="89" width="5" height="35" fill="#000"/>
<rect x="784" y="107" width="1" height="21" fill="#000"/>
<rect x="782.5" y="115.5" width="4" height="7" fill="#fff" stroke="#000" stroke-width="1"/>
<rect x="792" y="98" width="1" height="29" fill="#000"/>
<rect x="790" y="115" width="5" height="2" fill="#000"/>
<rect x="800" y="112" width="1" height="122" fill="#000"/>
<rect x="798" y="116" width="5" height="112" fill="#000"/>
<rect x="808" y="197" width="1" height="36" fill="#000"/>
<rect x="806.5" y="215.5" width="4" height="12" fill="#fff" stroke="#000" stroke-width="1"/>
<rect x="816" y="198" width="1" height="58" fill="#000"/>
<rect x="814" y="216" width="5" height="4" fill="#000"/>
<rect x="824" y="215" width="1" height="36" fill="#000"/>
<rect x="822" y="219" width="5" height="32" fill="#000"/>
<rect x="832" y="232" width="1" height="14" fill="#000"/>
<rect x="830" y="235" width="5" height="11" fill="#000"/>
<rect x="840" y="234" width="1" height="62" fill="#000"/>
<rect x="838" y="245" width="5" height="35" fill="#000"/>
<rect x="848" y="262" width="1" height="96" fill="#000"/>
<rect x="846" y="280" width="5" height="52" fill="#000"/>
<rect x="856" y="313" width="1" height="53" fill="#000"/>
<rect x="854" y="332" width="5" height="2" fill="#000"/>
<rect x="864" y="333" width="1" height="78" fill="#000"/>
<rect x="862" y="333" width="5" height="72" fill="#000"/>
<rect x="872" y="346" width="1" height="63" fill="#000"/>
<rect x="870.5" y="351.5" width="4" height="54" fill="#fff" stroke="#000" stroke-width="1"/>
<rect x="880" y="336" width="1" height="37" fill="#000"/>
<rect x="878" y="351" width="5" height="21" fill="#000"/>
<rect x="888" y="328" width="1" height="72" fill="#000"/>
<rect x="886.5" y="332.5" width="4" height="39" fill="#fff" stroke="#000" stroke-width="1"/>
<rect x="896" y="323" width="1" height="67" fill="#000"/>
<rect x="894" y="332" width="5" height="50" fill="#000"/>
<rect x="904" y="358" width="1" height="71" fill="#000"/>
<rect x="902" y="380" width="5" height="45" fill="#000"/>
<rect x="912" y="419" width="1" height="84" fill="#000"/>
<rect x="910" y="425" width="5" height="64" fill="#000"/>
<rect x="920" y="476" width="1" height="30" fill="#000"/>
<rect x="918" y="488" width="5" height="16" fill="#000"/>
<rect x="928" y="503" width="1" height="46" fill="#000"/>
<rect x="926" y="503" width="5" height="19" fill="#000"/>
<rect x="936" y="482" width="1" height="40" fill="#000"/>
<rect x="934.5" y="489.5" width="4" height="32" fill="#fff" stroke="#000" stroke-width="1"/>
<rect x="944" y="460" width="1" height="56" fill="#000"/>
<rect x="942.5" y="476.5" width="4" height="14" fill="#fff" stroke="#000" stroke-width="1"/>
<rect x="952" y="456" width="1" height="53" fill="#000"/>
<rect x="950" y="476" width="5" height="1" fill="#000"/>
<rect x="960" y="457" width="1" height="53" fill="#000"/>
<rect x="958.5" y="464.5" width="4" height="12" fill="#fff" stroke="#000" stroke-width="1"/>
<rect x="968" y="448" width="1" height="34" fill="#000"/>
<rect x="966" y="464" width="5" height="10" fill="#000"/>
<rect x="976" y="461" width="1" height="17" fill="#000"/>
<rect x="974.5" y="468.5" width="4" height="5" fill="#fff" stroke="#000" stroke-width="1"/>
<rect x="984" y="384" width="1" height="93" fill="#000"/>
<rect x="982.5" y="398.5" width="4" height="69" fill="#fff" stroke="#000" stroke-width="1"/>
<rect x="992" y="295" width="1" height="113" fill="#000"/>
<rect x="990.5" y="302.5" width="4" height="95" fill="#fff" stroke="#000" stroke-width="1"/>
<rect x="1000" y="286" width="1" height="101" fill="#000"/>
<rect x="998" y="302" width="5" height="75" fill="#000"/>
<rect x="1008" y="343" width="1" height="60" fill="#000"/>
<rect x="1006.5" y="365.5" width="4" height="10" fill="#fff" stroke="#000" stroke-width="1"/>
<rect x="1016" y="332" width="1" height="36" fill="#000"/>
<rect x="1014.5" y="347.5" width="4" height="18" fill="#fff" stroke="#000" stroke-width="1"/>
<rect x="1024" y="347" width="1" height="21" fill="#000"/>
<rect x="1022" y="347" width="5" height="10" fill="#000"/>
<rect x="1032" y="343" width="1" height="21" fill="#000"/>
<rect x="1030.5" y="353.5" width="4" height="3" fill="#fff" stroke="#000" stroke-width="1"/>
<rect x="1040" y="325" width="1" height="32" fill="#000"/>
<rect x="1038.5" y="341.5" width="4" height="13" fill="#fff" stroke="#000" stroke-width="1"/>
<rect x="1048" y="301" width="1" height="62" fill="#000"/>
<rect x="1046" y="341" width="5" height="4" fill="#000"/>
<rect x="1056" y="324" width="1" height="67" fill="#000"/>
<rect x="1054" y="344" width="5" height="7" fill="#000"/>
<rect x="1064" y="337" width="1" height="24" fill="#000"/>
<rect x="1062" y="350" width="5" height="3" fill="#000"/>
<rect x="1072" y="316" width="1" height="24" fill="#000"/>
<rect x="1070" y="317" width="5" height="18" fill="#000"/>
<rect x="1080" y="318" width="1" height="28" fill="#000"/>
<rect x="1078.5" y="323.5" width="4" height="11" fill="#fff" stroke="#000" stroke-width="1"/>
<rect x="1088" y="310" width="1" height="21" fill="#000"/>
<rect x="1086" y="323" width="5" height="1" fill="#000"/>
<rect x="1096" y="315" width="1" height="39" fill="#000"/>
<rect x="1094" y="323" width="5" height="26" fill="#000"/>
<rect x="1104" y="341" width="1" height="31" fill="#000"/>
<rect x="1102" y="348" width="5" height="9" fill="#000"/>
<rect x="1112" y="354" width="1" height="44" fill="#000"/>
<rect x="1110" y="356" width="5" height="24" fill="#000"/>
<rect x="1120" y="373" width="1" height="17" fill="#000"/>
<rect x="1118" y="378" width="5" height="1" fill="#000"/>
<rect x="1128" y="361" width="1" height="26" fill="#000"/>
<rect x="1126.5" y="363.5" width="4" height="16" fill="#fff" stroke="#000" stroke-width="1"/>
<rect x="1136" y="338" width="1" height="37" fill="#000"/>
<rect x="1134.5" y="344.5" width="4" height="19" fill="#fff" stroke="#000" stroke-width="1"/>
<rect x="1144" y="334" width="1" height="52" fill="#000"/>
<rect x="1142" y="344" width="5" height="25" fill="#000"/>
<rect x="1152" y="345" width="1" height="41" fill="#000"/>
<rect x="1150" y="368" width="5" height="6" fill="#000"/>
<rect x="1160" y="368" width="1" height="26" fill="#000"/>
<rect x="1158" y="373" width="5" height="7" fill="#000"/>
<rect x="1168" y="376" width="1" height="9" fill="#000"/>
<rect x="1166" y="378" width="5" height="2" fill="#000"/>
<rect x="1176" y="373" width="1" height="18" fill="#000"/>
<rect x="1174" y="378" width="5" height="12" fill="#000"/>
<rect x="1184" y="368" width="1" height="32" fill="#000"/>
<rect x="1182.5" y="369.5" width="4" height="19" fill="#fff" stroke="#000" stroke-width="1"/>
<rect x="1192" y="364" width="1" height="23" fill="#000"/>
<rect x="1190" y="369" width="5" height="14" fill="#000"/>
<rect x="1200" y="368" width="1" height="36" fill="#000"/>
<rect x="1198" y="382" width="5" height="15" fill="#000"/>
<rect x="1208" y="349" width="1" height="79" fill="#000"/>
<rect x="1206.5" y="362.5" width="4" height="34" fill="#fff" stroke="#000" stroke-width="1"/>
<rect x="1216" y="325" width="1" height="41" fill="#000"/>
<rect x="1214.5" y="355.5" width="4" height="7" fill="#fff" stroke="#000" stroke-width="1"/>
<rect x="1224" y="352" width="1" height="40" fill="#000"/>
<rect x="1222" y="353" width="5" height="39" fill="#000"/>
<rect x="1232" y="374" width="1" height="35" fill="#000"/>
<rect x="1230.5" y="375.5" width="4" height="16" fill="#fff" stroke="#000" stroke-width="1"/>
<rect x="1240" y="348" width="1" height="129" fill="#000"/>
<rect x="1238" y="376" width="5" height="88" fill="#000"/>
<rect x="1248" y="442" width="1" height="59" fill="#000"/>
<rect x="1246" y="464" width="5" height="20" fill="#000"/>
<rect x="1256" y="460" width="1" height="31" fill="#000"/>
<rect x="1254" y="483" width="5" height="1" fill="#000"/>
<rect x="1264" y="461" width="1" height="24" fill="#000"/>
<rect x="1262.5" y="464.5" width="4" height="20" fill="#fff" stroke="#000" stroke-width="1"/>
<rect x="1272" y="437" width="1" height="36" fill="#000"/>
<rect x="1270.5" y="439.5" width="4" height="24" fill="#fff" stroke="#000" stroke-width="1"/>
<rect x="1280" y="436" width="1" height="74" fill="#000"/>
<rect x="1278" y="439" width="5" height="48" fill="#000"/>
<rect x="1288" y="453" width="1" height="39" fill="#000"/>
<rect x="1286.5" y="477.5" width="4" height="9" fill="#fff" stroke="#000" stroke-width="1"/>
<rect x="1296" y="458" width="1" height="48" fill="#000"/>
<rect x="1294.5" y="476.5" width="4" height="1" fill="#fff" stroke="#000" stroke-width="1"/>
<rect x="1304" y="456" width="1" height="23" fill="#000"/>
<rect x="1302.5" y="469.5" width="4" height="5" fill="#fff" stroke="#000" stroke-width="1"/>
<rect x="1312" y="456" width="1" height="9" fill="#000"/>
<rect x="1310" y="457" width="5" height="6" fill="#000"/>
<rect x="1320" y="447" width="1" height="37" fill="#000"/>
<rect x="1318" y="463" width="5" height="10" fill="#000"/>
<rect x="1328" y="451" width="1" height="35" fill="#000"/>
<rect x="1326.5" y="458.5" width="4" height="14" fill="#fff" stroke="#000" stroke-width="1"/>
<rect x="1336" y="409" width="1" height="67" fill="#000"/>
<rect x="1334.5" y="412.5" width="4" height="46" fill="#fff" stroke="#000" stroke-width="1"/>
<rect x="1344" y="403" width="1" height="116" fill="#000"/>
<rect x="1342" y="412" width="5" height="69" fill="#000"/>
<rect x="1352" y="456" width="1" height="40" fill="#000"/>
<rect x="1350" y="480" width="5" height="15" fill="#000"/>
<rect x="1360" y="471" width="1" height="27" fill="#000"/>
<rect x="1358.5" y="480.5" width="4" height="15" fill="#fff" stroke="#000" stroke-width="1"/>
<rect x="1368" y="455" width="1" height="67" fill="#000"/>
<rect x="1366.5" y="465.5" width="4" height="13" fill="#fff" stroke="#000" stroke-width="1"/>
<rect x="1376" y="441" width="1" height="61" fill="#000"/>
<rect x="1374" y="466" width="5" height="30" fill="#000"/>
<rect x="1384" y="482" width="1" height="30" fill="#000"/>
<rect x="1382" y="495" width="5" height="5" fill="#000"/>
<rect x="1392" y="494" width="1" height="31" fill="#000"/>
<rect x="1390" y="499" width="5" height="10" fill="#000"/>
<rect x="1400" y="485" width="1" height="37" fill="#000"/>
<rect x="1398.5" y="494.5" width="4" height="14" fill="#fff" stroke="#000" stroke-width="1"/>
<rect x="1408" y="487" width="1" height="11" fill="#000"/>
<rect x="1406" y="493" width="5" height="4" fill="#000"/>
<g clip-path="url(#cd)">
<rect x="0" y="641" width="1" height="6" fill="#c0c0c0"/>
<rect x="8" y="646" width="1" height="1" fill="#c0c0c0"/>
<rect x="16" y="646" width="1" height="3" fill="#c0c0c0"/>
<rect x="24" y="646" width="1" height="3" fill="#c0c0c0"/>
<rect x="32" y="646" width="1" height="7" fill="#c0c0c0"/>
<rect x="40" y="646" width="1" height="11" fill="#c0c0c0"/>
<rect x="48" y="646" width="1" height="14" fill="#c0c0c0"/>
<rect x="56" y="646" width="1" height="15" fill="#c0c0c0"/>
<rect x="64" y="646" width="1" height="14" fill="#c0c0c0"/>
<rect x="72" y="646" width="1" height="9" fill="#c0c0c0"/>
<rect x="80" y="646" width="1" height="5" fill="#c0c0c0"/>
<rect x="88" y="646" width="1" height="2" fill="#c0c0c0"/>
<rect x="96" y="646" width="1" height="1" fill="#c0c0c0"/>
<rect x="104" y="645" width="1" height="2" fill="#c0c0c0"/>
<rect x="112" y="644" width="1" height="3" fill="#c0c0c0"/>
<rect x="120" y="642" width="1" height="5" fill="#c0c0c0"/>
<rect x="128" y="640" width="1" height="7" fill="#c0c0c0"/>
<rect x="136" y="640" width="1" height="7" fill="#c0c0c0"/>
<rect x="144" y="639" width="1" height="8" fill="#c0c0c0"/>
<rect x="152" y="638" width="1" height="9" fill="#c0c0c0"/>
<rect x="160" y="638" width="1" height="9" fill="#c0c0c0"/>
<rect x="168" y="639" width="1" height="8" fill="#c0c0c0"/>
<rect x="176" y="637" width="1" height="10" fill="#c0c0c0"/>
<rect x="184" y="635" width="1" height="12" fill="#c0c0c0"/>
<rect x="192" y="631" width="1" height="16" fill="#c0c0c0"/>
<rect x="200" y="629" width="1" height="18" fill="#c0c0c0"/>
<rect x="208" y="628" width="1" height="19" fill="#c0c0c0"/>
<rect x="216" y="627" width="1" height="20" fill="#c0c0c0"/>
<rect x="224" y="625" width="1" height="22" fill="#c0c0c0"/>
<rect x="232" y="623" width="1" height="24" fill="#c0c0c0"/>
<rect x="240" y="623" width="1" height="24" fill="#c0c0c0"/>
<rect x="248" y="624" width="1" height="23" fill="#c0c0c0"/>
<rect x="256" y="625" width="1" height="22" fill="#c0c0c0"/>
<rect x="264" y="626" width="1" height="21" fill="#c0c0c0"/>
<rect x="272" y="625" width="1" height="22" fill="#c0c0c0"/>
<rect x="280" y="625" width="1" height="22" fill="#c0c0c0"/>
<rect x="288" y="627" width="1" height="20" fill="#c0c0c0"/>
<rect x="296" y="627" width="1" height="20" fill="#c0c0c0"/>
<rect x="304" y="626" width="1" height="21" fill="#c0c0c0"/>
<rect x="312" y="627" width="1" height="20" fill="#c0c0c0"/>
<rect x="320" y="629" width="1" height="18" fill="#c0c0c0"/>
<rect x="328" y="630" width="1" height="17" fill="#c0c0c0"/>
<rect x="336" y="631" width="1" height="16" fill="#c0c0c0"/>
<rect x="344" y="631" width="1" height="16" fill="#c0c0c0"/>
<rect x="352" y="631" width="1" height="16" fill="#c0c0c0"/>
<rect x="360" y="629" width="1" height="18" fill="#c0c0c0"/>
<rect x="368" y="625" width="1" height="22" fill="#c0c0c0"/>
<rect x="376" y="618" width="1" height="29" fill="#c0c0c0"/>
<rect x="384" y="614" width="1" height="33" fill="#c0c0c0"/>
<rect x="392" y="613" width="1" height="34" fill="#c0c0c0"/>
<rect x="400" y="612" width="1" height="35" fill="#c0c0c0"/>
<rect x="408" y="612" width="1" height="35" fill="#c0c0c0"/>
<rect x="416" y="612" width="1" height="35" fill="#c0c0c0"/>
<rect x="424" y="612" width="1" height="35" fill="#c0c0c0"/>
<rect x="432" y="614" width="1" height="33" fill="#c0c0c0"/>
<rect x="440" y="617" width="1" height="30" fill="#c0c0c0"/>
<rect x="448" y="619" width="1" height="28" fill="#c0c0c0"/>
<rect x="456" y="620" width="1" height="27" fill="#c0c0c0"/>
<rect x="464" y="618" width="1" height="29" fill="#c0c0c0"/>
<rect x="472" y="618" width="1" height="29" fill="#c0c0c0"/>
<rect x="480" y="616" width="1" height="31" fill="#c0c0c0"/>
<rect x="488" y="611" width="1" height="36" fill="#c0c0c0"/>
<rect x="496" y="609" width="1" height="38" fill="#c0c0c0"/>
<rect x="504" y="608" width="1" height="39" fill="#c0c0c0"/>
<rect x="512" y="607" width="1" height="40" fill="#c0c0c0"/>
<rect x="520" y="608" width="1" height="39" fill="#c0c0c0"/>
<rect x="528" y="609" width="1" height="38" fill="#c0c0c0"/>
<rect x="536" y="609" width="1" height="38" fill="#c0c0c0"/>
<rect x="544" y="608" width="1" height="39" fill="#c0c0c0"/>
<rect x="552" y="607" width="1" height="40" fill="#c0c0c0"/>
<rect x="560" y="605" width="1" height="42" fill="#c0c0c0"/>
<rect x="568" y="604" width="1" height="43" fill="#c0c0c0"/>
<rect x="576" y="606" width="1" height="41" fill="#c0c0c0"/>
<rect x="584" y="607" width="1" height="40" fill="#c0c0c0"/>
<rect x="592" y="607" width="1" height="40" fill="#c0c0c0"/>
<rect x="600" y="609" width="1" height="38" fill="#c0c0c0"/>
<rect x="608" y="612" width="1" height="35" fill="#c0c0c0"/>
<rect x="616" y="614" width="1" height="33" fill="#c0c0c0"/>
<rect x="624" y="615" width="1" height="32" fill="#c0c0c0"/>
<rect x="632" y="616" width="1" height="31" fill="#c0c0c0"/>
<rect x="640" y="616" width="1" height="31" fill="#c0c0c0"/>
<rect x="648" y="611" width="1" height="36" fill="#c0c0c0"/>
<rect x="656" y="606" width="1" height="41" fill="#c0c0c0"/>
<rect x="664" y="602" width="1" height="45" fill="#c0c0c0"/>
<rect x="672" y="597" width="1" height="50" fill="#c0c0c0"/>
<rect x="680" y="592" width="1" height="55" fill="#c0c0c0"/>
<rect x="688" y="584" width="1" height="63" fill="#c0c0c0"/>
<rect x="696" y="584" width="1" height="63" fill="#c0c0c0"/>
<rect x="704" y="585" width="1" height="62" fill="#c0c0c0"/>
<rect x="712" y="589" width="1" height="58" fill="#c0c0c0"/>
<rect x="720" y="593" width="1" height="54" fill="#c0c0c0"/>
<rect x="728" y="597" width="1" height="50" fill="#c0c0c0"/>
<rect x="736" y="598" width="1" height="49" fill="#c0c0c0"/>
<rect x="744" y="599" width="1" height="48" fill="#c0c0c0"/>
<rect x="752" y="600" width="1" height="47" fill="#c0c0c0"/>
<rect x="760" y="603" width="1" height="44" fill="#c0c0c0"/>
<rect x="768" y="602" width="1" height="45" fill="#c0c0c0"/>
<rect x="776" y="605" width="1" height="42" fill="#c0c0c0"/>
<rect x="784" y="608" width="1" height="39" fill="#c0c0c0"/>
<rect x="792" y="610" width="1" height="37" fill="#c0c0c0"/>
<rect x="800" y="622" width="1" height="25" fill="#c0c0c0"/>
<rect x="808" y="631" width="1" height="16" fill="#c0c0c0"/>
<rect x="816" y="639" width="1" height="8" fill="#c0c0c0"/>
<rect x="824" y="646" width="1" height="3" fill="#c0c0c0"/>
<rect x="832" y="646" width="1" height="9" fill="#c0c0c0"/>
<rect x="840" y="646" width="1" height="17" fill="#c0c0c0"/>
<rect x="848" y="646" width="1" height="28" fill="#c0c0c0"/>
<rect x="856" y="646" width="1" height="37" fill="#c0c0c0"/>
<rect x="864" y="646" width="1" height="50" fill="#c0c0c0"/>
<rect x="872" y="646" width="1" height="54" fill="#c0c0c0"/>
<rect x="880" y="646" width="1" height="59" fill="#c0c0c0"/>
<rect x="888" y="646" width="1" height="59" fill="#c0c0c0"/>
<rect x="896" y="646" width="1" height="62" fill="#c0c0c0"/>
<rect x="904" y="646" width="1" height="68" fill="#c0c0c0"/>
<rect x="912" y="646" width="1" height="78" fill="#c0c0c0"/>
<rect x="920" y="646" width="1" height="87" fill="#c0c0c0"/>
<rect x="928" y="646" width="1" height="94" fill="#c0c0c0"/>
<rect x="936" y="646" width="1" height="95" fill="#c0c0c0"/>
<rect x="944" y="646" width="1" height="95" fill="#c0c0c0"/>
<rect x="952" y="646" width="1" height="93" fill="#c0c0c0"/>
<rect x="960" y="646" width="1" height="89" fill="#c0c0c0"/>
<rect x="968" y="646" width="1" height="86" fill="#c0c0c0"/>
<rect x="976" y="646" width="1" height="82" fill="#c0c0c0"/>
<rect x="984" y="646" width="1" height="72" fill="#c0c0c0"/>
<rect x="992" y="646" width="1" height="54" fill="#c0c0c0"/>
<rect x="1000" y="646" width="1" height="46" fill="#c0c0c0"/>
<rect x="1008" y="646" width="1" height="39" fill="#c0c0c0"/>
<rect x="1016" y="646" width="1" height="31" fill="#c0c0c0"/>
<rect x="1024" y="646" width="1" height="25" fill="#c0c0c0"/>
<rect x="1032" y="646" width="1" height="20" fill="#c0c0c0"/>
<rect x="1040" y="646" width="1" height="15" fill="#c0c0c0"/>
<rect x="1048" y="646" width="1" height="11" fill="#c0c0c0"/>
<rect x="1056" y="646" width="1" height="8" fill="#c0c0c0"/>
<rect x="1064" y="646" width="1" height="6" fill="#c0c0c0"/>
<rect x="1072" y="646" width="1" height="3" fill="#c0c0c0"/>
<rect x="1080" y="644" width="1" height="3" fill="#c0c0c0"/>
<rect x="1088" y="641" width="1" height="6" fill="#c0c0c0"/>
<rect x="1096" y="641" width="1" height="6" fill="#c0c0c0"/>
<rect x="1104" y="642" width="1" height="5" fill="#c0c0c0"/>
<rect x="1112" y="645" width="1" height="2" fill="#c0c0c0"/>
<rect x="1120" y="646" width="1" height="2" fill="#c0c0c0"/>
<rect x="1128" y="646" width="1" height="3" fill="#c0c0c0"/>
<rect x="1136" y="646" width="1" height="1" fill="#c0c0c0"/>
<rect x="1144" y="646" width="1" height="2" fill="#c0c0c0"/>
<rect x="1152" y="646" width="1" height="4" fill="#c0c0c0"/>
<rect x="1160" y="646" width="1" height="5" fill="#c0c0c0"/>
<rect x="1168" y="646" width="1" height="6" fill="#c0c0c0"/>
<rect x="1176" y="646" width="1" height="8" fill="#c0c0c0"/>
<rect x="1184" y="646" width="1" height="7" fill="#c0c0c0"/>
<rect x="1192" y="646" width="1" height="8" fill="#c0c0c0"/>
<rect x="1200" y="646" width="1" height="10" fill="#c0c0c0"/>
<rect x="1208" y="646" width="1" height="8" fill="#c0c0c0"/>
<rect x="1216" y="646" width="1" height="6" fill="#c0c0c0"/>
<rect x="1224" y="646" width="1" height="8" fill="#c0c0c0"/>
<rect x="1232" y="646" width="1" height="7" fill="#c0c0c0"/>
<rect x="1240" y="646" width="1" height="15" fill="#c0c0c0"/>
<rect x="1248" y="646" width="1" height="23" fill="#c0c0c0"/>
<rect x="1256" y="646" width="1" height="29" fill="#c0c0c0"/>
<rect x="1264" y="646" width="1" height="31" fill="#c0c0c0"/>
<rect x="1272" y="646" width="1" height="31" fill="#c0c0c0"/>
<rect x="1280" y="646" width="1" height="34" fill="#c0c0c0"/>
<rect x="1288" y="646" width="1" height="36" fill="#c0c0c0"/>
<rect x="1296" y="646" width="1" height="37" fill="#c0c0c0"/>
<rect x="1304" y="646" width="1" height="36" fill="#c0c0c0"/>
<rect x="1312" y="646" width="1" height="35" fill="#c0c0c0"/>
<rect x="1320" y="646" width="1" height="34" fill="#c0c0c0"/>
<rect x="1328" y="646" width="1" height="32" fill="#c0c0c0"/>
<rect x="1336" y="646" width="1" height="26" fill="#c0c0c0"/>
<rect x="1344" y="646" width="1" height="27" fill="#c0c0c0"/>
<rect x="1352" y="646" width="1" height="29" fill="#c0c0c0"/>
<rect x="1360" y="646" width="1" height="29" fill="#c0c0c0"/>
<rect x="1368" y="646" width="1" height="27" fill="#c0c0c0"/>
<rect x="1376" y="646" width="1" height="28" fill="#c0c0c0"/>
<rect x="1384" y="646" width="1" height="29" fill="#c0c0c0"/>
<rect x="1392" y="646" width="1" height="30" fill="#c0c0c0"/>
<rect x="1400" y="646" width="1" height="29" fill="#c0c0c0"/>
<rect x="1408" y="646" width="1" height="29" fill="#c0c0c0"/>
</g>
<g>
<polyline points="0.5,618.3 8.5,623.6 16.5,628.9 24.5,633.9 32.5,638.8 40.5,643.2 48.5,646.8 56.5,649.7 64.5,652.1 72.5,653.5 80.5,653.9 88.5,653.9 96.5,653.6 104.5,652.7 112.5,651.4 120.5,649.5 128.5,647.3 136.5,645.2 144.5,643.6 152.5,642.3 160.5,641.3 168.5,640.6 176.5,639.7 184.5,638.7 192.5,637.5 200.5,636.3 208.5,635.0 216.5,633.5 224.5,632.1 232.5,630.5 240.5,628.7 248.5,627.2 256.5,626.2 264.5,625.5 272.5,625.1 280.5,624.7 288.5,624.7 296.5,624.9 304.5,625.2 312.5,625.6 320.5,626.2 328.5,626.8 336.5,627.4 344.5,628.0 352.5,628.7 360.5,629.0 368.5,628.7 376.5,627.8 384.5,626.4 392.5,624.6 400.5,622.5 408.5,620.3 416.5,618.2 424.5,616.1 432.5,614.5 440.5,613.6 448.5,613.7 456.5,614.4 464.5,615.0 472.5,615.7 480.5,616.2 488.5,616.1 496.5,615.8 504.5,615.1 512.5,614.0 520.5,612.8 528.5,611.6 536.5,610.5 544.5,609.4 552.5,608.4 560.5,607.7 568.5,607.1 576.5,606.9 584.5,606.8 592.5,606.7 600.5,606.7 608.5,607.0 616.5,607.7 624.5,608.6 632.5,609.9 640.5,611.2 648.5,611.8 656.5,611.8 664.5,611.2 672.5,609.9 680.5,607.6 688.5,604.3 696.5,600.9 704.5,597.5 712.5,594.5 720.5,592.4 728.5,591.4 736.5,591.0 744.5,591.2 752.5,592.1 760.5,594.1 768.5,596.1 776.5,598.3 784.5,600.4 792.5,602.2 800.5,605.1 808.5,608.8 816.5,613.3 824.5,618.6 832.5,624.4 840.5,631.1 848.5,638.7 856.5,646.9 864.5,656.4 872.5,664.9 880.5,673.1 888.5,680.3 896.5,686.9 904.5,693.5 912.5,700.2 920.5,706.7 928.5,713.0 936.5,718.1 944.5,722.6 952.5,726.3 960.5,729.6 968.5,732.2 976.5,733.8 984.5,733.1 992.5,729.4 1000.5,724.2 1008.5,717.9 1016.5,710.8 1024.5,703.3 1032.5,695.6 1040.5,687.7 1048.5,679.7 1056.5,672.6 1064.5,667.2 1072.5,662.4 1080.5,657.9 1088.5,654.1 1096.5,650.9 1104.5,648.4 1112.5,646.8 1120.5,645.9 1128.5,645.3 1136.5,644.8 1144.5,644.7 1152.5,645.3 1160.5,646.2 1168.5,647.3 1176.5,648.5 1184.5,649.3 1192.5,650.0 1200.5,650.8 1208.5,651.5 1216.5,652.0 1224.5,652.4 1232.5,652.6 1240.5,653.6 1248.5,655.3 1256.5,657.7 1264.5,660.3 1272.5,662.6 1280.5,665.5 1288.5,668.8 1296.5,672.0 1304.5,675.2 1312.5,677.4 1320.5,678.6 1328.5,679.0 1336.5,678.4 1344.5,677.9 1352.5,677.3 1360.5,676.5 1368.5,675.4 1376.5,674.5 1384.5,673.9 1392.5,673.4 1400.5,673.1 1408.5,673.4" fill="none" stroke="#ff0000" stroke-width="1" stroke-dasharray="3,3"/>
</g>
<line x1="0" y1="786.5" x2="1651" y2="786.5" stroke="#a8a8a8" stroke-width="1" stroke-dasharray="3,3" stroke-dashoffset="1"/>
<line x1="0" y1="837.5" x2="1651" y2="837.5" stroke="#a8a8a8" stroke-width="1" stroke-dasharray="3,3" stroke-dashoffset="1"/>
<line x1="0" y1="898.5" x2="1651" y2="898.5" stroke="#a8a8a8" stroke-width="1" stroke-dasharray="3,3" stroke-dashoffset="1"/>
<g>
<polyline points="0.5,841.8 8.5,846.0 16.5,842.0 24.5,839.8 32.5,848.1 40.5,849.8 48.5,849.5 56.5,845.5 64.5,843.1 72.5,827.7 80.5,829.8 88.5,832.3 96.5,832.9 104.5,833.9 112.5,833.9 120.5,829.1 128.5,828.2 136.5,832.9 144.5,830.2 152.5,829.1 160.5,828.9 168.5,837.9 176.5,823.4 184.5,821.1 192.5,815.6 200.5,818.4 208.5,817.5 216.5,816.1 224.5,814.2 232.5,809.6 240.5,819.1 248.5,819.1 256.5,823.6 264.5,821.9 272.5,816.0 280.5,812.9 288.5,830.1 296.5,820.9 304.5,817.8 312.5,824.2 320.5,831.6 328.5,830.7 336.5,825.6 344.5,821.2 352.5,823.4 360.5,813.1 368.5,800.8 376.5,792.3 384.5,798.5 392.5,809.1 400.5,807.7 408.5,810.0 416.5,809.4 424.5,809.1 432.5,816.7 440.5,825.2 448.5,822.6 456.5,816.4 464.5,805.8 472.5,815.5 480.5,806.2 488.5,796.7 496.5,806.4 504.5,806.1 512.5,804.9 520.5,810.1 528.5,812.1 536.5,806.4 544.5,803.7 552.5,799.9 560.5,796.0 568.5,799.2 576.5,810.7 584.5,808.0 592.5,804.0 600.5,814.8 608.5,824.0 616.5,818.5 624.5,817.4 632.5,815.4 640.5,809.6 648.5,794.6 656.5,791.0 664.5,788.9 672.5,785.3 680.5,782.6 688.5,777.2 696.5,804.6 704.5,807.3 712.5,816.5 720.5,819.4 728.5,818.7 736.5,812.4 744.5,810.3 752.5,810.7 760.5,817.9 768.5,808.2 776.5,823.7 784.5,821.4 792.5,821.7 800.5,857.1 808.5,852.9 816.5,853.8 824.5,861.0 832.5,859.2 840.5,866.5 848.5,875.6 856.5,875.8 864.5,885.3 872.5,867.0 880.5,870.0 888.5,858.3 896.5,866.0 904.5,871.9 912.5,879.1 920.5,880.7 928.5,882.5 936.5,872.8 944.5,869.1 952.5,869.0 960.5,865.1 968.5,866.6 976.5,864.8 984.5,843.9 992.5,824.0 1000.5,839.1 1008.5,837.1 1016.5,833.7 1024.5,835.5 1032.5,834.9 1040.5,832.3 1048.5,832.9 1056.5,834.7 1064.5,835.1 1072.5,830.3 1080.5,827.5 1088.5,827.6 1096.5,836.0 1104.5,838.5 1112.5,845.8 1120.5,845.4 1128.5,839.9 1136.5,833.3 1144.5,841.6 1152.5,843.3 1160.5,845.4 1168.5,845.3 1176.5,849.1 1184.5,840.1 1192.5,845.2 1200.5,850.4 1208.5,836.0 1216.5,833.4 1224.5,846.7 1232.5,840.3 1240.5,864.0 1248.5,867.9 1256.5,867.9 1264.5,860.3 1272.5,850.7 1280.5,861.7 1288.5,858.1 1296.5,857.8 1304.5,855.4 1312.5,852.4 1320.5,855.3 1328.5,849.5 1336.5,833.1 1344.5,852.1 1352.5,855.4 1360.5,850.7 1368.5,845.7 1376.5,853.2 1384.5,854.2 1392.5,856.6 1400.5,851.0 1408.5,851.7" fill="none" stroke="#1e90ff" stroke-width="1" />
</g>
<rect x="1652" y="41" width="2" height="1" fill="#000"/>
<text x="1657.5" y="45.0" font-size="9.6" fill="#000" text-anchor="start" font-weight="normal" textLength="32.0" lengthAdjust="spacingAndGlyphs" >168.580</text>
<rect x="1652" y="74" width="2" height="1" fill="#000"/>
<text x="1657.5" y="78.0" font-size="9.6" fill="#000" text-anchor="start" font-weight="normal" textLength="32.0" lengthAdjust="spacingAndGlyphs" >167.995</text>
<rect x="1652" y="107" width="2" height="1" fill="#000"/>
<text x="1657.5" y="111.0" font-size="9.6" fill="#000" text-anchor="start" font-weight="normal" textLength="32.0" lengthAdjust="spacingAndGlyphs" >167.410</text>
<rect x="1652" y="140" width="2" height="1" fill="#000"/>
<text x="1657.5" y="144.0" font-size="9.6" fill="#000" text-anchor="start" font-weight="normal" textLength="32.0" lengthAdjust="spacingAndGlyphs" >166.825</text>
<rect x="1652" y="173" width="2" height="1" fill="#000"/>
<text x="1657.5" y="177.0" font-size="9.6" fill="#000" text-anchor="start" font-weight="normal" textLength="32.0" lengthAdjust="spacingAndGlyphs" >166.240</text>
<rect x="1652" y="206" width="2" height="1" fill="#000"/>
<text x="1657.5" y="210.0" font-size="9.6" fill="#000" text-anchor="start" font-weight="normal" textLength="32.0" lengthAdjust="spacingAndGlyphs" >165.655</text>
<rect x="1652" y="239" width="2" height="1" fill="#000"/>
<text x="1657.5" y="243.0" font-size="9.6" fill="#000" text-anchor="start" font-weight="normal" textLength="32.0" lengthAdjust="spacingAndGlyphs" >165.070</text>
<rect x="1652" y="272" width="2" height="1" fill="#000"/>
<text x="1657.5" y="276.0" font-size="9.6" fill="#000" text-anchor="start" font-weight="normal" textLength="32.0" lengthAdjust="spacingAndGlyphs" >164.485</text>
<rect x="1652" y="305" width="2" height="1" fill="#000"/>
<text x="1657.5" y="309.0" font-size="9.6" fill="#000" text-anchor="start" font-weight="normal" textLength="32.0" lengthAdjust="spacingAndGlyphs" >163.900</text>
<rect x="1652" y="338" width="2" height="1" fill="#000"/>
<text x="1657.5" y="342.0" font-size="9.6" fill="#000" text-anchor="start" font-weight="normal" textLength="32.0" lengthAdjust="spacingAndGlyphs" >163.315</text>
<rect x="1652" y="371" width="2" height="1" fill="#000"/>
<text x="1657.5" y="375.0" font-size="9.6" fill="#000" text-anchor="start" font-weight="normal" textLength="32.0" lengthAdjust="spacingAndGlyphs" >162.730</text>
<rect x="1652" y="404" width="2" height="1" fill="#000"/>
<text x="1657.5" y="408.0" font-size="9.6" fill="#000" text-anchor="start" font-weight="normal" textLength="32.0" lengthAdjust="spacingAndGlyphs" >162.160</text>
<rect x="1652" y="437" width="2" height="1" fill="#000"/>
<text x="1657.5" y="441.0" font-size="9.6" fill="#000" text-anchor="start" font-weight="normal" textLength="32.0" lengthAdjust="spacingAndGlyphs" >161.575</text>
<rect x="1652" y="470" width="2" height="1" fill="#000"/>
<text x="1657.5" y="474.0" font-size="9.6" fill="#000" text-anchor="start" font-weight="normal" textLength="32.0" lengthAdjust="spacingAndGlyphs" >160.990</text>
<rect x="1652" y="503" width="2" height="1" fill="#000"/>
<text x="1657.5" y="507.0" font-size="9.6" fill="#000" text-anchor="start" font-weight="normal" textLength="32.0" lengthAdjust="spacingAndGlyphs" >160.405</text>
<rect x="1652" y="536" width="2" height="1" fill="#000"/>
<text x="1657.5" y="540.0" font-size="9.6" fill="#000" text-anchor="start" font-weight="normal" textLength="32.0" lengthAdjust="spacingAndGlyphs" >159.820</text>
<rect x="1652" y="569" width="2" height="1" fill="#000"/>
<text x="1657.5" y="573.0" font-size="9.6" fill="#000" text-anchor="start" font-weight="normal" textLength="32.0" lengthAdjust="spacingAndGlyphs" >159.235</text>
<rect x="1653" y="383" width="41" height="11" fill="#ff0000"/>
<text x="1656.5" y="393.0" font-size="9.6" fill="#fff" text-anchor="start" font-weight="normal" textLength="33.0" lengthAdjust="spacingAndGlyphs" >162.421</text>
<rect x="1653" y="431" width="41" height="11" fill="#ff0000"/>
<text x="1656.5" y="441.0" font-size="9.6" fill="#fff" text-anchor="start" font-weight="normal" textLength="33.0" lengthAdjust="spacingAndGlyphs" >161.573</text>
<rect x="1653" y="472" width="41" height="11" fill="#32cd32"/>
<text x="1656.5" y="482.0" font-size="9.6" fill="#fff" text-anchor="start" font-weight="normal" textLength="33.0" lengthAdjust="spacingAndGlyphs" >160.836</text>
<rect x="1653" y="490" width="41" height="11" fill="#000000"/>
<text x="1656.5" y="500.0" font-size="9.6" fill="#fff" text-anchor="start" font-weight="normal" textLength="33.0" lengthAdjust="spacingAndGlyphs" >160.529</text>
<rect x="1653" y="528" width="41" height="11" fill="#0000ff"/>
<text x="1656.5" y="538.0" font-size="9.6" fill="#fff" text-anchor="start" font-weight="normal" textLength="33.0" lengthAdjust="spacingAndGlyphs" >159.859</text>
<rect x="1653" y="561" width="41" height="11" fill="#0000ff"/>
<text x="1656.5" y="571.0" font-size="9.6" fill="#fff" text-anchor="start" font-weight="normal" textLength="33.0" lengthAdjust="spacingAndGlyphs" >159.269</text>
<rect x="1652" y="575" width="2" height="1" fill="#000"/>
<text x="1655.0" y="585.0" font-size="9.6" fill="#000" text-anchor="start" font-weight="normal" textLength="28.0" lengthAdjust="spacingAndGlyphs" >1.0643</text>
<rect x="1652" y="646" width="2" height="1" fill="#000"/>
<text x="1655.0" y="650.0" font-size="9.6" fill="#000" text-anchor="start" font-weight="normal" textLength="18.0" lengthAdjust="spacingAndGlyphs" >0.00</text>
<rect x="1652" y="747" width="2" height="1" fill="#000"/>
<text x="1655.0" y="745.0" font-size="9.6" fill="#000" text-anchor="start" font-weight="normal" textLength="31.4" lengthAdjust="spacingAndGlyphs" >-1.5495</text>
<text x="1654.3" y="761.0" font-size="9.6" fill="#000" text-anchor="start" font-weight="normal" textLength="15.0" lengthAdjust="spacingAndGlyphs" >100</text>
<text x="1654.3" y="790.0" font-size="9.6" fill="#000" text-anchor="start" font-weight="normal" textLength="10.0" lengthAdjust="spacingAndGlyphs" >80</text>
<text x="1654.3" y="841.0" font-size="9.6" fill="#000" text-anchor="start" font-weight="normal" textLength="10.0" lengthAdjust="spacingAndGlyphs" >50</text>
<text x="1654.3" y="902.0" font-size="9.6" fill="#000" text-anchor="start" font-weight="normal" textLength="10.0" lengthAdjust="spacingAndGlyphs" >15</text>
<text x="1654.3" y="921.0" font-size="9.6" fill="#000" text-anchor="start" font-weight="normal" textLength="5.0" lengthAdjust="spacingAndGlyphs" >0</text>
<rect x="1652" y="752" width="2" height="1" fill="#000"/>
<text x="7.5" y="35.0" font-size="9.6" fill="#000" text-anchor="start" font-weight="normal" textLength="199.5" lengthAdjust="spacingAndGlyphs" >GBPJPY-,H4  160.579 160.683 160.515 160.529</text>
<path d="M0 30 L3 34 L0 34 Z" fill="#000"/>
<text x="-2.5" y="587.0" font-size="9.6" fill="#000" text-anchor="start" font-weight="normal" textLength="132.5" lengthAdjust="spacingAndGlyphs" >MACD(12,26,9) -0.4132 -0.4094</text>
<text x="-6.0" y="763.0" font-size="9.6" fill="#000" text-anchor="start" font-weight="normal" textLength="69.7" lengthAdjust="spacingAndGlyphs" >RSI(14) 41.9823</text>
<rect x="56" y="925" width="1" height="3" fill="#000"/>
<text x="55.0" y="936.7" font-size="9.6" fill="#000" text-anchor="start" font-weight="normal" textLength="56.0" lengthAdjust="spacingAndGlyphs" >31 Mar 16:00</text>
<rect x="120" y="925" width="1" height="3" fill="#000"/>
<text x="119.0" y="936.7" font-size="9.6" fill="#000" text-anchor="start" font-weight="normal" textLength="48.6" lengthAdjust="spacingAndGlyphs" >4 Apr 00:00</text>
<rect x="184" y="925" width="1" height="3" fill="#000"/>
<text x="183.0" y="936.7" font-size="9.6" fill="#000" text-anchor="start" font-weight="normal" textLength="48.6" lengthAdjust="spacingAndGlyphs" >5 Apr 08:00</text>
<rect x="248" y="925" width="1" height="3" fill="#000"/>
<text x="247.0" y="936.7" font-size="9.6" fill="#000" text-anchor="start" font-weight="normal" textLength="48.6" lengthAdjust="spacingAndGlyphs" >6 Apr 16:00</text>
<rect x="312" y="925" width="1" height="3" fill="#000"/>
<text x="311.0" y="936.7" font-size="9.6" fill="#000" text-anchor="start" font-weight="normal" textLength="48.6" lengthAdjust="spacingAndGlyphs" >8 Apr 00:00</text>
<rect x="376" y="925" width="1" height="3" fill="#000"/>
<text x="375.0" y="936.7" font-size="9.6" fill="#000" text-anchor="start" font-weight="normal" textLength="53.2" lengthAdjust="spacingAndGlyphs" >11 Apr 08:00</text>
<rect x="440" y="925" width="1" height="3" fill="#000"/>
<text x="439.0" y="936.7" font-size="9.6" fill="#000" text-anchor="start" font-weight="normal" textLength="53.9" lengthAdjust="spacingAndGlyphs" >12 Apr 16:00</text>
<rect x="504" y="925" width="1" height="3" fill="#000"/>
<text x="503.0" y="936.7" font-size="9.6" fill="#000" text-anchor="start" font-weight="normal" textLength="53.9" lengthAdjust="spacingAndGlyphs" >14 Apr 00:00</text>
<rect x="568" y="925" width="1" height="3" fill="#000"/>
<text x="567.0" y="936.7" font-size="9.6" fill="#000" text-anchor="start" font-weight="normal" textLength="53.9" lengthAdjust="spacingAndGlyphs" >15 Apr 08:00</text>
<rect x="632" y="925" width="1" height="3" fill="#000"/>
<text x="631.0" y="936.7" font-size="9.6" fill="#000" text-anchor="start" font-weight="normal" textLength="53.9" lengthAdjust="spacingAndGlyphs" >18 Apr 16:00</text>
<rect x="696" y="925" width="1" height="3" fill="#000"/>
<text x="695.0" y="936.7" font-size="9.6" fill="#000" text-anchor="start" font-weight="normal" textLength="53.9" lengthAdjust="spacingAndGlyphs" >20 Apr 00:00</text>
<rect x="760" y="925" width="1" height="3" fill="#000"/>
<text x="759.0" y="936.7" font-size="9.6" fill="#000" text-anchor="start" font-weight="normal" textLength="53.9" lengthAdjust="spacingAndGlyphs" >21 Apr 08:00</text>
<rect x="824" y="925" width="1" height="3" fill="#000"/>
<text x="823.0" y="936.7" font-size="9.6" fill="#000" text-anchor="start" font-weight="normal" textLength="53.9" lengthAdjust="spacingAndGlyphs" >22 Apr 16:00</text>
<rect x="888" y="925" width="1" height="3" fill="#000"/>
<text x="887.0" y="936.7" font-size="9.6" fill="#000" text-anchor="start" font-weight="normal" textLength="53.9" lengthAdjust="spacingAndGlyphs" >26 Apr 00:00</text>
<rect x="952" y="925" width="1" height="3" fill="#000"/>
<text x="951.0" y="936.7" font-size="9.6" fill="#000" text-anchor="start" font-weight="normal" textLength="53.9" lengthAdjust="spacingAndGlyphs" >27 Apr 08:00</text>
<rect x="1016" y="925" width="1" height="3" fill="#000"/>
<text x="1015.0" y="936.7" font-size="9.6" fill="#000" text-anchor="start" font-weight="normal" textLength="53.9" lengthAdjust="spacingAndGlyphs" >28 Apr 16:00</text>
<rect x="1080" y="925" width="1" height="3" fill="#000"/>
<text x="1079.0" y="936.7" font-size="9.6" fill="#000" text-anchor="start" font-weight="normal" textLength="52.3" lengthAdjust="spacingAndGlyphs" >2 May 00:00</text>
<rect x="1144" y="925" width="1" height="3" fill="#000"/>
<text x="1143.0" y="936.7" font-size="9.6" fill="#000" text-anchor="start" font-weight="normal" textLength="52.3" lengthAdjust="spacingAndGlyphs" >3 May 08:00</text>
<rect x="1208" y="925" width="1" height="3" fill="#000"/>
<text x="1207.0" y="936.7" font-size="9.6" fill="#000" text-anchor="start" font-weight="normal" textLength="52.3" lengthAdjust="spacingAndGlyphs" >4 May 16:00</text>
<rect x="1272" y="925" width="1" height="3" fill="#000"/>
<text x="1271.0" y="936.7" font-size="9.6" fill="#000" text-anchor="start" font-weight="normal" textLength="52.3" lengthAdjust="spacingAndGlyphs" >6 May 00:00</text>
<rect x="1336" y="925" width="1" height="3" fill="#000"/>
<text x="1335.0" y="936.7" font-size="9.6" fill="#000" text-anchor="start" font-weight="normal" textLength="52.3" lengthAdjust="spacingAndGlyphs" >9 May 08:00</text>
<rect x="1400" y="925" width="1" height="3" fill="#000"/>
<text x="1399.0" y="936.7" font-size="9.6" fill="#000" text-anchor="start" font-weight="normal" textLength="57.6" lengthAdjust="spacingAndGlyphs" >10 May 16:00</text>
<text x="-8.5" y="936.7" font-size="9.6" fill="#000" text-anchor="start" font-weight="normal" textLength="53.3" lengthAdjust="spacingAndGlyphs" >30 Mar 2022</text>
<path d="M1413 24 L1422 24 L1417.5 29 Z" fill="#c0c0c0" shape-rendering="auto"/>
<rect x="1147.5" y="466.5" width="73.0" height="24.0" fill="#fff" stroke="#ff0000" stroke-width="1"/>
<text x="1149.5" y="487.0" font-size="21.0" fill="#ff0000" text-anchor="start" font-weight="normal" textLength="69.5" lengthAdjust="spacingAndGlyphs" >160.836</text>
<rect x="1137" y="478" width="10" height="1" fill="#ff0000"/>
<rect x="857.5" y="541.5" width="61.0" height="18.0" fill="#fff" stroke="#ff0000" stroke-width="1"/>
<text x="859.5" y="556.0" font-size="16.0" fill="#ff0000" text-anchor="start" font-weight="normal" textLength="57.5" lengthAdjust="spacingAndGlyphs" >159.575</text>
<rect x="919" y="550" width="10" height="1" fill="#ff0000"/>
<rect x="1321.5" y="516.5" width="61.0" height="18.0" fill="#fff" stroke="#ff0000" stroke-width="1"/>
<text x="1323.5" y="532.0" font-size="16.0" fill="#ff0000" text-anchor="start" font-weight="normal" textLength="57.5" lengthAdjust="spacingAndGlyphs" >160.020</text>
<rect x="1383.5" y="523.5" width="2" height="3" fill="#fff" stroke="#ff0000" stroke-width="1"/>
<rect x="1386" y="525" width="7" height="1" fill="#ff0000"/>
<g shape-rendering="auto"><line x1="1225.0" y1="372.0" x2="1417.9" y2="509.7" stroke="#ff0000" stroke-width="4.2" stroke-linecap="round"/>
<path d="M1426.0 515.5 L1412.7 513.4 L1417.9 509.7 L1419.7 503.6 Z" fill="#ff0000"/></g>
<g shape-rendering="auto"><line x1="1313.5" y1="677.0" x2="1418.0" y2="671.1" stroke="#ff0000" stroke-width="4.0" stroke-linecap="round"/>
<path d="M1429.0 670.5 L1416.3 676.2 L1418.0 671.1 L1415.7 666.2 Z" fill="#ff0000"/></g>
<g shape-rendering="auto"><line x1="1333.0" y1="845.5" x2="1404.1" y2="855.0" stroke="#ff0000" stroke-width="3.6" stroke-linecap="round"/>
<path d="M1415.0 856.5 L1401.5 859.7 L1404.1 855.0 L1402.8 849.8 Z" fill="#ff0000"/></g>
<defs><linearGradient id="gh" x1="0" y1="0" x2="0" y2="1"><stop offset="0" stop-color="#5a5aff"/><stop offset="1" stop-color="#3434e4"/></linearGradient><linearGradient id="gp" x1="0" y1="0" x2="0" y2="1"><stop offset="0" stop-color="#3030e2"/><stop offset="1" stop-color="#0000b0"/></linearGradient><linearGradient id="gb" x1="0" y1="0" x2="0" y2="1"><stop offset="0" stop-color="#f4f4f4"/><stop offset="1" stop-color="#d4d4d4"/></linearGradient></defs>
<rect x="0" y="43" width="47" height="24" fill="url(#gh)"/>
<rect x="162" y="43" width="52" height="24" fill="url(#gh)"/>
<rect x="0" y="67" width="104" height="33" fill="url(#gp)"/>
<rect x="106" y="67" width="108" height="33" fill="url(#gp)"/>
<rect x="0" y="67" width="43" height="1" fill="#6a6aff"/>
<rect x="166" y="67" width="44" height="1" fill="#6a6aff"/>
<rect x="162" y="43" width="52" height="1" fill="#0000c8"/>
<rect x="0" y="43" width="47" height="1" fill="#0000c8"/>
<rect x="49.5" y="43.5" width="110" height="21" fill="#fff" stroke="#a8a8a8" stroke-width="1"/>
<rect x="51" y="45" width="19" height="18" fill="url(#gb)"/>
<rect x="70.5" y="44" width="1" height="20" fill="#c8c8c8"/>
<rect x="139" y="45" width="19" height="18" fill="url(#gb)"/>
<rect x="138" y="44" width="1" height="20" fill="#c8c8c8"/>
<path d="M57.5 51.5 L61.5 53.5 L59.5 55 Z" fill="#6a7ad0"/><path d="M61 50 L63 52" stroke="#333" stroke-width="1"/>
<path d="M145.5 54 L148.5 51 L151.5 54 Z" fill="#6a7ad0"/>
<text x="111.5" y="58.3" font-size="12.0" fill="#000" font-weight="normal" textLength="23.0" lengthAdjust="spacingAndGlyphs">1.00</text>
<text x="7.5" y="59.0" font-size="12.5" fill="#fff" font-weight="normal" textLength="25.5" lengthAdjust="spacingAndGlyphs">SELL</text>
<text x="175.5" y="59.0" font-size="12.5" fill="#fff" font-weight="normal" textLength="23.5" lengthAdjust="spacingAndGlyphs">BUY</text>
<text x="18.5" y="94.6" font-size="11.5" fill="#fff" font-weight="bold" textLength="20.5" lengthAdjust="spacingAndGlyphs">160</text>
<text x="43.5" y="94.6" font-size="33.0" fill="#fff" font-weight="normal" textLength="33.0" lengthAdjust="spacingAndGlyphs">52</text>
<text x="82.0" y="79.0" font-size="12.5" fill="#fff" font-weight="bold" textLength="7.0" lengthAdjust="spacingAndGlyphs">9</text>
<text x="128.5" y="94.6" font-size="11.5" fill="#fff" font-weight="bold" textLength="20.5" lengthAdjust="spacingAndGlyphs">160</text>
<text x="154.0" y="94.6" font-size="33.0" fill="#fff" font-weight="normal" textLength="34.0" lengthAdjust="spacingAndGlyphs">79</text>
<text x="193.0" y="79.0" font-size="12.5" fill="#fff" font-weight="bold" textLength="7.0" lengthAdjust="spacingAndGlyphs">9</text>
</svg></body></html>
